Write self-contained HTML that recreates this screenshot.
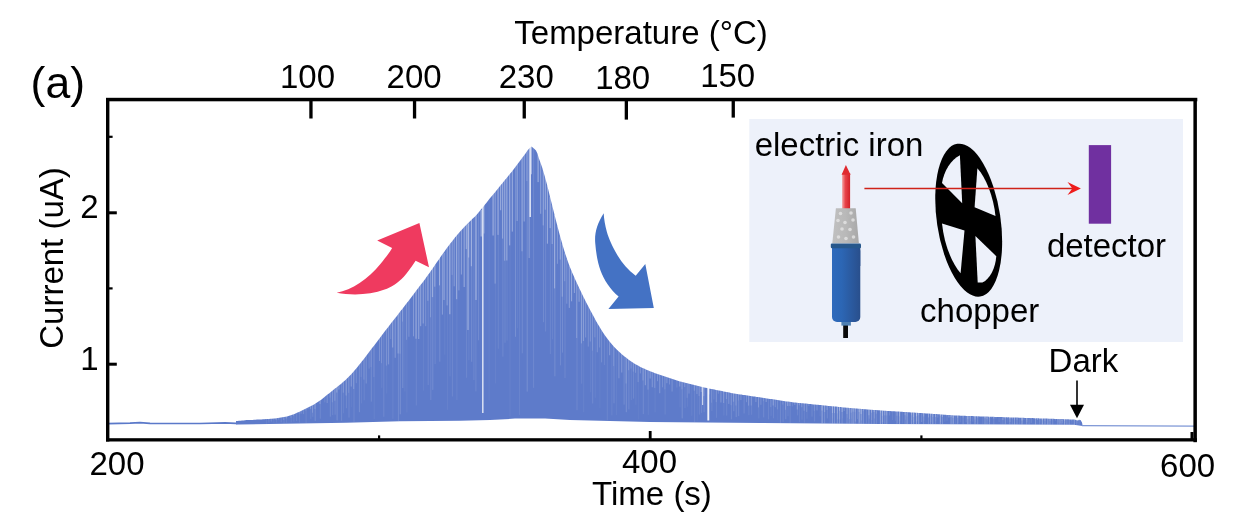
<!DOCTYPE html>
<html lang="en">
<head>
<meta charset="utf-8">
<title>Current vs Time</title>
<style>
html,body{margin:0;padding:0;background:#fff;}
body{width:1242px;height:516px;overflow:hidden;position:relative;}
svg{position:absolute;left:0;top:0;display:block;}
text{font-family:"Liberation Sans", Arial, sans-serif;fill:#000;}
</style>
</head>
<body>
<svg width="1242" height="516" viewBox="0 0 1242 516">
<defs>
<linearGradient id="gTip" x1="0" x2="1" y1="0" y2="0"><stop offset="0" stop-color="#f3a3a3"/><stop offset="0.4" stop-color="#e8434a"/><stop offset="1" stop-color="#d21f27"/></linearGradient>
<linearGradient id="gBody" x1="0" x2="1" y1="0" y2="0"><stop offset="0" stop-color="#2e6abc"/><stop offset="0.35" stop-color="#2c66b4"/><stop offset="1" stop-color="#294f8c"/></linearGradient>
<linearGradient id="gCone" x1="0" x2="1" y1="0" y2="0"><stop offset="0" stop-color="#c0c0c0"/><stop offset="0.5" stop-color="#b9b9b9"/><stop offset="1" stop-color="#a8a8a8"/></linearGradient>
</defs>
<rect width="1242" height="516" fill="#fff"/>

<!-- inset background -->
<rect x="749.3" y="119" width="433.7" height="223" fill="#edf1fa"/>

<!-- data band -->
<g id="data">
<polyline points="108,423.6 130,423.2 140,422.6 150,423.4 200,423.5 225,422.8 236,423.4 240,423" fill="none" stroke="#5b79c9" stroke-width="1.7"/>
<polygon points="236.0,421.0 237.5,420.9 239.0,420.8 240.5,420.7 242.0,420.6 243.5,420.4 245.0,420.2 246.5,420.1 248.0,420.1 249.5,420.0 251.0,419.9 252.5,419.9 254.0,419.8 255.5,419.7 257.0,419.6 258.5,419.6 260.0,419.5 261.5,419.4 263.0,419.3 264.5,419.2 266.0,419.1 267.5,419.0 269.0,418.9 270.5,418.8 272.0,418.7 273.5,418.5 275.0,418.4 276.5,418.2 278.0,418.0 279.5,417.8 281.0,417.6 282.5,417.3 284.0,417.0 285.5,416.7 287.0,416.4 288.5,415.9 290.0,415.5 291.5,415.0 293.0,414.5 294.5,413.9 296.0,413.2 297.5,412.6 299.0,411.9 300.5,411.2 302.0,410.5 303.5,409.7 305.0,409.0 306.5,408.2 308.0,407.5 309.5,406.8 311.0,406.0 312.5,405.2 314.0,404.4 315.5,403.5 317.0,402.5 318.5,401.5 320.0,400.5 321.5,399.4 323.0,398.2 324.5,397.0 326.0,395.8 327.5,394.6 329.0,393.4 330.5,392.2 332.0,391.0 333.5,389.8 335.0,388.6 336.5,387.4 338.0,386.2 339.5,385.1 341.0,383.9 342.5,382.6 344.0,381.3 345.5,379.9 347.0,378.5 348.5,377.0 350.0,375.5 351.5,373.9 353.0,372.2 354.5,370.5 356.0,368.7 357.5,366.9 359.0,365.0 360.5,363.2 362.0,361.3 363.5,359.4 365.0,357.4 366.5,355.5 368.0,353.5 369.5,351.6 371.0,349.6 372.5,347.6 374.0,345.7 375.5,343.7 377.0,341.7 378.5,339.7 380.0,337.7 381.5,335.7 383.0,333.7 384.5,331.8 386.0,329.8 387.5,327.9 389.0,326.0 390.5,324.0 392.0,322.1 393.5,320.2 395.0,318.3 396.5,316.4 398.0,314.5 399.5,312.6 401.0,310.6 402.5,308.7 404.0,306.7 405.5,304.8 407.0,302.8 408.5,300.9 410.0,298.9 411.5,296.9 413.0,295.0 414.5,293.0 416.0,291.0 417.5,289.1 419.0,287.1 420.5,285.1 422.0,283.2 423.5,281.2 425.0,279.2 426.5,277.1 428.0,275.1 429.5,273.0 431.0,270.8 432.5,268.7 434.0,266.5 435.5,264.3 437.0,262.1 438.5,259.9 440.0,257.7 441.5,255.6 443.0,253.5 444.5,251.4 446.0,249.3 447.5,247.3 449.0,245.3 450.5,243.3 452.0,241.4 453.5,239.5 455.0,237.6 456.5,235.8 458.0,234.0 459.5,232.3 461.0,230.6 462.5,229.0 464.0,227.3 465.5,225.7 467.0,224.2 468.5,222.7 470.0,221.2 471.5,219.7 473.0,218.3 474.5,217.0 476.0,215.4 477.5,213.7 479.0,211.9 480.5,210.1 482.0,208.3 483.5,206.5 485.0,204.6 486.5,202.7 488.0,200.7 489.5,198.8 491.0,197.1 492.5,195.3 494.0,193.5 495.5,191.7 497.0,189.8 498.5,188.0 500.0,186.1 501.5,184.3 503.0,182.4 504.5,180.6 506.0,178.8 507.5,177.0 509.0,175.1 510.5,173.3 512.0,171.4 513.5,169.5 515.0,167.5 516.5,165.6 518.0,163.6 519.5,161.6 521.0,159.5 522.5,157.5 524.0,155.5 525.5,153.4 527.0,151.3 528.5,149.2 530.0,147.8 531.5,146.6 533.0,147.7 534.5,149.1 536.0,150.4 537.5,153.8 539.0,158.8 540.5,162.7 542.0,167.1 543.5,172.0 545.0,177.3 546.5,182.8 548.0,188.6 549.5,194.7 551.0,200.7 552.5,206.8 554.0,212.7 555.5,218.7 557.0,224.5 558.5,230.3 560.0,235.9 561.5,241.3 563.0,246.5 564.5,251.4 566.0,256.1 567.5,260.5 569.0,264.7 570.5,268.5 572.0,272.2 573.5,275.6 575.0,279.0 576.5,282.3 578.0,285.5 579.5,288.7 581.0,291.8 582.5,294.9 584.0,297.9 585.5,300.9 587.0,303.9 588.5,306.8 590.0,309.7 591.5,312.5 593.0,315.3 594.5,318.1 596.0,320.9 597.5,323.6 599.0,326.1 600.5,328.6 602.0,331.0 603.5,333.3 605.0,335.5 606.5,337.5 608.0,339.5 609.5,341.4 611.0,343.2 612.5,345.0 614.0,346.7 615.5,348.3 617.0,349.8 618.5,351.2 620.0,352.6 621.5,353.9 623.0,355.2 624.5,356.4 626.0,357.6 627.5,358.8 629.0,359.9 630.5,361.0 632.0,362.0 633.5,363.0 635.0,363.9 636.5,364.8 638.0,365.6 639.5,366.4 641.0,367.2 642.5,367.9 644.0,368.6 645.5,369.3 647.0,370.0 648.5,370.6 650.0,371.2 651.5,371.8 653.0,372.3 654.5,372.9 656.0,373.4 657.5,373.9 659.0,374.4 660.5,375.0 662.0,375.5 663.5,376.0 665.0,376.5 666.5,377.1 668.0,377.6 669.5,378.1 671.0,378.6 672.5,379.1 674.0,379.6 675.5,380.1 677.0,380.5 678.5,381.0 680.0,381.4 681.5,381.8 683.0,382.2 684.5,382.6 686.0,382.9 687.5,383.3 689.0,383.7 690.5,384.1 692.0,384.4 693.5,384.8 695.0,385.2 696.5,385.6 698.0,385.9 699.5,386.3 701.0,386.7 702.5,387.0 704.0,387.4 705.5,387.7 707.0,388.1 708.5,388.4 710.0,388.7 711.5,389.0 713.0,389.3 714.5,389.6 716.0,389.9 717.5,390.2 719.0,390.5 720.5,390.8 722.0,391.1 723.5,391.4 725.0,391.7 726.5,392.0 728.0,392.3 729.5,392.6 731.0,392.9 732.5,393.2 734.0,393.4 735.5,393.7 737.0,393.9 738.5,394.2 740.0,394.4 741.5,394.6 743.0,394.9 744.5,395.1 746.0,395.3 747.5,395.5 749.0,395.8 750.5,396.0 752.0,396.2 753.5,396.4 755.0,396.6 756.5,396.9 758.0,397.1 759.5,397.3 761.0,397.5 762.5,397.8 764.0,398.0 765.5,398.2 767.0,398.4 768.5,398.7 770.0,398.9 771.5,399.1 773.0,399.3 774.5,399.6 776.0,399.8 777.5,400.0 779.0,400.2 780.5,400.5 782.0,400.7 783.5,400.9 785.0,401.2 786.5,401.4 788.0,401.6 789.5,401.8 791.0,402.0 792.5,402.2 794.0,402.4 795.5,402.6 797.0,402.7 798.5,402.9 800.0,403.0 801.5,403.2 803.0,403.3 804.5,403.5 806.0,403.6 807.5,403.8 809.0,403.9 810.5,404.1 812.0,404.2 813.5,404.4 815.0,404.5 816.5,404.7 818.0,404.8 819.5,405.0 821.0,405.1 822.5,405.3 824.0,405.4 825.5,405.6 827.0,405.7 828.5,405.9 830.0,406.0 831.5,406.2 833.0,406.3 834.5,406.5 836.0,406.6 837.5,406.8 839.0,406.9 840.5,407.1 842.0,407.2 843.5,407.4 845.0,407.5 846.5,407.7 848.0,407.8 849.5,407.9 851.0,408.1 852.5,408.2 854.0,408.3 855.5,408.5 857.0,408.6 858.5,408.7 860.0,408.8 861.5,408.9 863.0,409.1 864.5,409.2 866.0,409.3 867.5,409.4 869.0,409.5 870.5,409.7 872.0,409.8 873.5,409.9 875.0,410.0 876.5,410.1 878.0,410.2 879.5,410.3 881.0,410.5 882.5,410.6 884.0,410.7 885.5,410.8 887.0,410.9 888.5,411.0 890.0,411.1 891.5,411.2 893.0,411.2 894.5,411.3 896.0,411.4 897.5,411.5 899.0,411.6 900.5,411.7 902.0,411.8 903.5,411.9 905.0,412.0 906.5,412.1 908.0,412.2 909.5,412.3 911.0,412.4 912.5,412.5 914.0,412.6 915.5,412.7 917.0,412.8 918.5,412.9 920.0,413.0 921.5,413.1 923.0,413.2 924.5,413.3 926.0,413.4 927.5,413.5 929.0,413.6 930.5,413.7 932.0,413.8 933.5,413.9 935.0,414.0 936.5,414.1 938.0,414.2 939.5,414.3 941.0,414.5 942.5,414.6 944.0,414.7 945.5,414.8 947.0,414.9 948.5,415.0 950.0,415.1 951.5,415.2 953.0,415.3 954.5,415.4 956.0,415.5 957.5,415.5 959.0,415.6 960.5,415.7 962.0,415.7 963.5,415.8 965.0,415.8 966.5,415.9 968.0,415.9 969.5,416.0 971.0,416.1 972.5,416.1 974.0,416.2 975.5,416.2 977.0,416.3 978.5,416.3 980.0,416.4 981.5,416.4 983.0,416.5 984.5,416.5 986.0,416.6 987.5,416.6 989.0,416.7 990.5,416.7 992.0,416.8 993.5,416.8 995.0,416.9 996.5,416.9 998.0,417.0 999.5,417.0 1001.0,417.1 1002.5,417.1 1004.0,417.2 1005.5,417.2 1007.0,417.3 1008.5,417.3 1010.0,417.4 1011.5,417.4 1013.0,417.5 1014.5,417.5 1016.0,417.6 1017.5,417.6 1019.0,417.7 1020.5,417.7 1022.0,417.8 1023.5,417.8 1025.0,417.9 1026.5,417.9 1028.0,418.0 1029.5,418.0 1031.0,418.1 1032.5,418.1 1034.0,418.2 1035.5,418.2 1037.0,418.3 1038.5,418.3 1040.0,418.4 1041.5,418.4 1043.0,418.5 1044.5,418.5 1046.0,418.6 1047.5,418.6 1049.0,418.7 1050.5,418.7 1052.0,418.8 1053.5,418.8 1055.0,418.9 1056.5,418.9 1058.0,419.0 1059.5,419.0 1061.0,419.1 1062.5,419.1 1064.0,419.2 1065.5,419.2 1067.0,419.3 1068.5,419.3 1070.0,419.4 1071.5,419.4 1073.0,419.5 1074.5,419.6 1076.0,419.9 1077.5,420.6 1079.0,419.8 1080.5,419.9 1082.0,422.5 1082.5,425.0 1082.5,426.0 1074.0,424.8 880.0,424.0 760.0,422.9 650.0,422.0 570.0,420.0 545.0,418.6 515.0,418.6 490.0,420.0 460.0,420.7 400.0,421.2 346.0,422.7 239.0,424.6 236.0,424.6" fill="#5e7bca"/>
<line x1="266.3" y1="418.5" x2="266.3" y2="419.7" stroke="#fff" stroke-opacity="0.18" stroke-width="1.0"/><line x1="266.6" y1="418.5" x2="266.6" y2="423.9" stroke="#fff" stroke-opacity="0.08" stroke-width="0.8"/><line x1="268.6" y1="418.3" x2="268.6" y2="419.6" stroke="#fff" stroke-opacity="0.17" stroke-width="1.2"/><line x1="268.9" y1="418.3" x2="268.9" y2="422.5" stroke="#fff" stroke-opacity="0.13" stroke-width="0.8"/><line x1="271.1" y1="418.2" x2="271.1" y2="420.9" stroke="#fff" stroke-opacity="0.13" stroke-width="0.9"/><line x1="271.4" y1="418.2" x2="271.4" y2="422.2" stroke="#fff" stroke-opacity="0.07" stroke-width="1.0"/><line x1="273.5" y1="418.0" x2="273.5" y2="419.3" stroke="#fff" stroke-opacity="0.18" stroke-width="0.9"/><line x1="273.8" y1="418.0" x2="273.8" y2="423.0" stroke="#fff" stroke-opacity="0.07" stroke-width="0.8"/><line x1="276.1" y1="417.7" x2="276.1" y2="419.9" stroke="#fff" stroke-opacity="0.21" stroke-width="1.0"/><line x1="276.4" y1="417.7" x2="276.4" y2="422.7" stroke="#fff" stroke-opacity="0.09" stroke-width="0.8"/><line x1="278.7" y1="417.3" x2="278.7" y2="419.6" stroke="#fff" stroke-opacity="0.18" stroke-width="1.0"/><line x1="281.2" y1="417.0" x2="281.2" y2="422.4" stroke="#fff" stroke-opacity="0.14" stroke-width="0.8"/><line x1="283.7" y1="416.6" x2="283.7" y2="419.9" stroke="#fff" stroke-opacity="0.13" stroke-width="1.2"/><line x1="284.0" y1="416.6" x2="284.0" y2="423.5" stroke="#fff" stroke-opacity="0.09" stroke-width="1.0"/><line x1="286.2" y1="416.2" x2="286.2" y2="418.5" stroke="#fff" stroke-opacity="0.21" stroke-width="1.0"/><line x1="286.5" y1="416.2" x2="286.5" y2="422.8" stroke="#fff" stroke-opacity="0.07" stroke-width="1.0"/><line x1="290.9" y1="414.7" x2="290.9" y2="418.0" stroke="#fff" stroke-opacity="0.12" stroke-width="1.0"/><line x1="291.2" y1="414.7" x2="291.2" y2="422.4" stroke="#fff" stroke-opacity="0.11" stroke-width="0.8"/><line x1="293.6" y1="413.7" x2="293.6" y2="415.9" stroke="#fff" stroke-opacity="0.16" stroke-width="1.0"/><line x1="293.9" y1="413.7" x2="293.9" y2="421.6" stroke="#fff" stroke-opacity="0.12" stroke-width="0.8"/><line x1="296.6" y1="412.6" x2="296.6" y2="421.1" stroke="#fff" stroke-opacity="0.10" stroke-width="1.0"/><line x1="299.2" y1="411.3" x2="299.2" y2="413.7" stroke="#fff" stroke-opacity="0.15" stroke-width="0.9"/><line x1="299.5" y1="411.3" x2="299.5" y2="422.7" stroke="#fff" stroke-opacity="0.08" stroke-width="1.0"/><line x1="301.1" y1="410.4" x2="301.1" y2="413.7" stroke="#fff" stroke-opacity="0.18" stroke-width="0.9"/><line x1="303.5" y1="409.2" x2="303.5" y2="414.1" stroke="#fff" stroke-opacity="0.13" stroke-width="1.2"/><line x1="305.8" y1="408.0" x2="305.8" y2="410.6" stroke="#fff" stroke-opacity="0.19" stroke-width="0.9"/><line x1="306.1" y1="408.0" x2="306.1" y2="423.3" stroke="#fff" stroke-opacity="0.11" stroke-width="0.8"/><line x1="308.0" y1="406.9" x2="308.0" y2="409.1" stroke="#fff" stroke-opacity="0.14" stroke-width="0.9"/><line x1="310.5" y1="405.6" x2="310.5" y2="409.1" stroke="#fff" stroke-opacity="0.16" stroke-width="1.2"/><line x1="310.8" y1="405.6" x2="310.8" y2="418.9" stroke="#fff" stroke-opacity="0.10" stroke-width="0.8"/><line x1="312.5" y1="404.6" x2="312.5" y2="412.7" stroke="#fff" stroke-opacity="0.17" stroke-width="1.0"/><line x1="312.8" y1="404.6" x2="312.8" y2="416.8" stroke="#fff" stroke-opacity="0.10" stroke-width="1.0"/><line x1="314.9" y1="403.4" x2="314.9" y2="409.1" stroke="#fff" stroke-opacity="0.14" stroke-width="1.2"/><line x1="315.2" y1="403.4" x2="315.2" y2="420.9" stroke="#fff" stroke-opacity="0.16" stroke-width="1.0"/><line x1="320.0" y1="400.0" x2="320.0" y2="404.1" stroke="#fff" stroke-opacity="0.20" stroke-width="1.2"/><line x1="320.3" y1="400.0" x2="320.3" y2="418.7" stroke="#fff" stroke-opacity="0.13" stroke-width="0.8"/><line x1="324.8" y1="396.2" x2="324.8" y2="402.4" stroke="#fff" stroke-opacity="0.12" stroke-width="0.9"/><line x1="327.2" y1="394.3" x2="327.2" y2="403.1" stroke="#fff" stroke-opacity="0.16" stroke-width="1.2"/><line x1="330.0" y1="392.0" x2="330.0" y2="397.8" stroke="#fff" stroke-opacity="0.14" stroke-width="0.9"/><line x1="330.3" y1="392.0" x2="330.3" y2="416.7" stroke="#fff" stroke-opacity="0.17" stroke-width="0.8"/><line x1="332.4" y1="390.1" x2="332.4" y2="402.2" stroke="#fff" stroke-opacity="0.13" stroke-width="1.2"/><line x1="332.7" y1="390.1" x2="332.7" y2="415.1" stroke="#fff" stroke-opacity="0.14" stroke-width="0.8"/><line x1="334.8" y1="388.2" x2="334.8" y2="400.8" stroke="#fff" stroke-opacity="0.16" stroke-width="1.2"/><line x1="335.1" y1="388.2" x2="335.1" y2="414.7" stroke="#fff" stroke-opacity="0.16" stroke-width="0.8"/><line x1="336.8" y1="386.5" x2="336.8" y2="392.4" stroke="#fff" stroke-opacity="0.22" stroke-width="1.2"/><line x1="337.1" y1="386.5" x2="337.1" y2="420.4" stroke="#fff" stroke-opacity="0.17" stroke-width="1.0"/><line x1="338.9" y1="384.9" x2="338.9" y2="389.5" stroke="#fff" stroke-opacity="0.21" stroke-width="1.2"/><line x1="341.6" y1="383.0" x2="341.6" y2="420.8" stroke="#fff" stroke-opacity="0.15" stroke-width="0.8"/><line x1="343.3" y1="381.5" x2="343.3" y2="392.7" stroke="#fff" stroke-opacity="0.20" stroke-width="1.0"/><line x1="343.6" y1="381.5" x2="343.6" y2="413.3" stroke="#fff" stroke-opacity="0.07" stroke-width="1.0"/><line x1="346.1" y1="379.3" x2="346.1" y2="395.4" stroke="#fff" stroke-opacity="0.18" stroke-width="1.2"/><line x1="346.4" y1="379.3" x2="346.4" y2="408.2" stroke="#fff" stroke-opacity="0.12" stroke-width="1.0"/><line x1="348.7" y1="376.4" x2="348.7" y2="392.9" stroke="#fff" stroke-opacity="0.14" stroke-width="0.9"/><line x1="349.0" y1="376.4" x2="349.0" y2="417.6" stroke="#fff" stroke-opacity="0.12" stroke-width="1.0"/><line x1="351.3" y1="373.6" x2="351.3" y2="386.5" stroke="#fff" stroke-opacity="0.21" stroke-width="1.2"/><line x1="351.6" y1="373.6" x2="351.6" y2="406.9" stroke="#fff" stroke-opacity="0.06" stroke-width="0.8"/><line x1="353.7" y1="370.9" x2="353.7" y2="389.0" stroke="#fff" stroke-opacity="0.22" stroke-width="1.0"/><line x1="354.0" y1="370.9" x2="354.0" y2="421.9" stroke="#fff" stroke-opacity="0.13" stroke-width="0.8"/><line x1="356.3" y1="368.0" x2="356.3" y2="383.2" stroke="#fff" stroke-opacity="0.17" stroke-width="0.9"/><line x1="359.4" y1="364.4" x2="359.4" y2="412.2" stroke="#fff" stroke-opacity="0.16" stroke-width="1.0"/><line x1="361.1" y1="361.8" x2="361.1" y2="376.9" stroke="#fff" stroke-opacity="0.13" stroke-width="0.9"/><line x1="361.4" y1="361.8" x2="361.4" y2="403.4" stroke="#fff" stroke-opacity="0.09" stroke-width="0.8"/><line x1="363.9" y1="358.2" x2="363.9" y2="379.7" stroke="#fff" stroke-opacity="0.19" stroke-width="0.9"/><line x1="364.2" y1="358.2" x2="364.2" y2="400.3" stroke="#fff" stroke-opacity="0.11" stroke-width="0.8"/><line x1="366.2" y1="355.3" x2="366.2" y2="383.5" stroke="#fff" stroke-opacity="0.21" stroke-width="0.9"/><line x1="369.1" y1="351.5" x2="369.1" y2="368.6" stroke="#fff" stroke-opacity="0.16" stroke-width="0.9"/><line x1="371.0" y1="349.0" x2="371.0" y2="367.1" stroke="#fff" stroke-opacity="0.12" stroke-width="1.0"/><line x1="371.3" y1="349.0" x2="371.3" y2="401.6" stroke="#fff" stroke-opacity="0.17" stroke-width="0.8"/><line x1="373.9" y1="345.2" x2="373.9" y2="377.1" stroke="#fff" stroke-opacity="0.13" stroke-width="1.0"/><line x1="374.2" y1="345.2" x2="374.2" y2="419.1" stroke="#fff" stroke-opacity="0.08" stroke-width="0.8"/><line x1="379.5" y1="337.8" x2="379.5" y2="361.0" stroke="#fff" stroke-opacity="0.18" stroke-width="1.0"/><line x1="381.5" y1="335.1" x2="381.5" y2="363.2" stroke="#fff" stroke-opacity="0.17" stroke-width="0.9"/><line x1="381.8" y1="335.1" x2="381.8" y2="387.9" stroke="#fff" stroke-opacity="0.07" stroke-width="1.0"/><line x1="383.8" y1="332.5" x2="383.8" y2="416.8" stroke="#fff" stroke-opacity="0.11" stroke-width="1.0"/><line x1="386.4" y1="328.7" x2="386.4" y2="365.6" stroke="#fff" stroke-opacity="0.19" stroke-width="0.9"/><line x1="386.7" y1="328.7" x2="386.7" y2="393.5" stroke="#fff" stroke-opacity="0.07" stroke-width="0.8"/><line x1="388.5" y1="325.9" x2="388.5" y2="364.4" stroke="#fff" stroke-opacity="0.20" stroke-width="1.2"/><line x1="390.7" y1="323.2" x2="390.7" y2="339.1" stroke="#fff" stroke-opacity="0.17" stroke-width="0.9"/><line x1="392.6" y1="320.7" x2="392.6" y2="347.5" stroke="#fff" stroke-opacity="0.25" stroke-width="1.2"/><line x1="392.9" y1="320.7" x2="392.9" y2="418.8" stroke="#fff" stroke-opacity="0.07" stroke-width="1.0"/><line x1="395.2" y1="317.5" x2="395.2" y2="357.8" stroke="#fff" stroke-opacity="0.25" stroke-width="1.0"/><line x1="398.1" y1="313.8" x2="398.1" y2="353.6" stroke="#fff" stroke-opacity="0.23" stroke-width="1.2"/><line x1="398.4" y1="313.8" x2="398.4" y2="420.8" stroke="#fff" stroke-opacity="0.17" stroke-width="0.8"/><line x1="400.0" y1="311.4" x2="400.0" y2="353.7" stroke="#fff" stroke-opacity="0.20" stroke-width="0.9"/><line x1="400.3" y1="311.4" x2="400.3" y2="414.3" stroke="#fff" stroke-opacity="0.16" stroke-width="1.0"/><line x1="402.5" y1="308.1" x2="402.5" y2="321.6" stroke="#fff" stroke-opacity="0.17" stroke-width="1.0"/><line x1="402.8" y1="308.1" x2="402.8" y2="388.0" stroke="#fff" stroke-opacity="0.17" stroke-width="1.0"/><line x1="404.9" y1="305.3" x2="404.9" y2="391.5" stroke="#fff" stroke-opacity="0.06" stroke-width="1.0"/><line x1="406.6" y1="302.7" x2="406.6" y2="339.8" stroke="#fff" stroke-opacity="0.19" stroke-width="0.9"/><line x1="406.9" y1="302.7" x2="406.9" y2="412.5" stroke="#fff" stroke-opacity="0.08" stroke-width="0.8"/><line x1="408.9" y1="299.7" x2="408.9" y2="336.7" stroke="#fff" stroke-opacity="0.17" stroke-width="1.2"/><line x1="413.5" y1="293.8" x2="413.5" y2="336.3" stroke="#fff" stroke-opacity="0.24" stroke-width="1.0"/><line x1="416.0" y1="290.4" x2="416.0" y2="338.8" stroke="#fff" stroke-opacity="0.30" stroke-width="1.2"/><line x1="416.3" y1="290.4" x2="416.3" y2="405.5" stroke="#fff" stroke-opacity="0.12" stroke-width="0.8"/><line x1="418.7" y1="286.8" x2="418.7" y2="339.0" stroke="#fff" stroke-opacity="0.28" stroke-width="1.2"/><line x1="420.7" y1="284.2" x2="420.7" y2="326.2" stroke="#fff" stroke-opacity="0.33" stroke-width="1.0"/><line x1="423.2" y1="281.0" x2="423.2" y2="323.5" stroke="#fff" stroke-opacity="0.29" stroke-width="1.0"/><line x1="423.5" y1="281.0" x2="423.5" y2="390.7" stroke="#fff" stroke-opacity="0.07" stroke-width="0.8"/><line x1="425.7" y1="277.7" x2="425.7" y2="326.2" stroke="#fff" stroke-opacity="0.22" stroke-width="0.9"/><line x1="427.9" y1="274.9" x2="427.9" y2="300.8" stroke="#fff" stroke-opacity="0.30" stroke-width="1.0"/><line x1="428.2" y1="274.9" x2="428.2" y2="385.0" stroke="#fff" stroke-opacity="0.11" stroke-width="1.0"/><line x1="430.5" y1="271.1" x2="430.5" y2="317.3" stroke="#fff" stroke-opacity="0.20" stroke-width="0.9"/><line x1="430.8" y1="271.1" x2="430.8" y2="400.1" stroke="#fff" stroke-opacity="0.14" stroke-width="0.8"/><line x1="432.5" y1="268.2" x2="432.5" y2="297.1" stroke="#fff" stroke-opacity="0.31" stroke-width="1.2"/><line x1="432.8" y1="268.2" x2="432.8" y2="389.9" stroke="#fff" stroke-opacity="0.14" stroke-width="1.0"/><line x1="434.8" y1="264.7" x2="434.8" y2="286.7" stroke="#fff" stroke-opacity="0.36" stroke-width="0.9"/><line x1="435.1" y1="264.7" x2="435.1" y2="364.0" stroke="#fff" stroke-opacity="0.11" stroke-width="1.0"/><line x1="439.5" y1="257.6" x2="439.5" y2="285.4" stroke="#fff" stroke-opacity="0.38" stroke-width="0.9"/><line x1="439.8" y1="257.6" x2="439.8" y2="361.7" stroke="#fff" stroke-opacity="0.14" stroke-width="1.0"/><line x1="442.4" y1="253.7" x2="442.4" y2="314.6" stroke="#fff" stroke-opacity="0.31" stroke-width="0.9"/><line x1="444.8" y1="250.8" x2="444.8" y2="354.7" stroke="#fff" stroke-opacity="0.06" stroke-width="1.0"/><line x1="447.1" y1="247.3" x2="447.1" y2="305.4" stroke="#fff" stroke-opacity="0.30" stroke-width="1.0"/><line x1="447.4" y1="247.3" x2="447.4" y2="409.8" stroke="#fff" stroke-opacity="0.06" stroke-width="1.0"/><line x1="449.8" y1="243.5" x2="449.8" y2="314.2" stroke="#fff" stroke-opacity="0.37" stroke-width="1.2"/><line x1="450.1" y1="243.5" x2="450.1" y2="376.4" stroke="#fff" stroke-opacity="0.10" stroke-width="0.8"/><line x1="452.1" y1="240.5" x2="452.1" y2="274.9" stroke="#fff" stroke-opacity="0.24" stroke-width="0.9"/><line x1="452.4" y1="240.5" x2="452.4" y2="396.5" stroke="#fff" stroke-opacity="0.13" stroke-width="0.8"/><line x1="454.2" y1="237.6" x2="454.2" y2="286.3" stroke="#fff" stroke-opacity="0.27" stroke-width="1.0"/><line x1="456.6" y1="234.9" x2="456.6" y2="299.2" stroke="#fff" stroke-opacity="0.32" stroke-width="1.2"/><line x1="456.9" y1="234.9" x2="456.9" y2="400.0" stroke="#fff" stroke-opacity="0.07" stroke-width="1.0"/><line x1="458.9" y1="232.3" x2="458.9" y2="290.4" stroke="#fff" stroke-opacity="0.30" stroke-width="0.9"/><line x1="461.4" y1="229.6" x2="461.4" y2="274.5" stroke="#fff" stroke-opacity="0.30" stroke-width="1.0"/><line x1="464.2" y1="226.4" x2="464.2" y2="287.0" stroke="#fff" stroke-opacity="0.31" stroke-width="1.2"/><line x1="466.3" y1="224.2" x2="466.3" y2="249.1" stroke="#fff" stroke-opacity="0.35" stroke-width="1.0"/><line x1="466.6" y1="224.2" x2="466.6" y2="377.7" stroke="#fff" stroke-opacity="0.10" stroke-width="1.0"/><line x1="468.6" y1="221.6" x2="468.6" y2="257.6" stroke="#fff" stroke-opacity="0.28" stroke-width="1.2"/><line x1="468.9" y1="221.6" x2="468.9" y2="360.2" stroke="#fff" stroke-opacity="0.09" stroke-width="0.8"/><line x1="471.4" y1="219.1" x2="471.4" y2="266.3" stroke="#fff" stroke-opacity="0.33" stroke-width="1.2"/><line x1="471.7" y1="219.1" x2="471.7" y2="361.8" stroke="#fff" stroke-opacity="0.14" stroke-width="1.0"/><line x1="473.9" y1="217.2" x2="473.9" y2="380.1" stroke="#fff" stroke-opacity="0.13" stroke-width="0.8"/><line x1="475.9" y1="215.4" x2="475.9" y2="391.4" stroke="#fff" stroke-opacity="0.11" stroke-width="1.0"/><line x1="478.6" y1="213.0" x2="478.6" y2="340.3" stroke="#fff" stroke-opacity="0.14" stroke-width="1.0"/><line x1="481.2" y1="209.9" x2="481.2" y2="236.4" stroke="#fff" stroke-opacity="0.44" stroke-width="1.2"/><line x1="484.0" y1="203.7" x2="484.0" y2="233.4" stroke="#fff" stroke-opacity="0.27" stroke-width="1.2"/><line x1="489.1" y1="199.4" x2="489.1" y2="400.4" stroke="#fff" stroke-opacity="0.06" stroke-width="0.8"/><line x1="493.1" y1="194.1" x2="493.1" y2="235.4" stroke="#fff" stroke-opacity="0.38" stroke-width="1.2"/><line x1="495.1" y1="191.5" x2="495.1" y2="283.6" stroke="#fff" stroke-opacity="0.28" stroke-width="1.0"/><line x1="495.4" y1="191.5" x2="495.4" y2="383.4" stroke="#fff" stroke-opacity="0.06" stroke-width="1.0"/><line x1="498.0" y1="187.8" x2="498.0" y2="234.9" stroke="#fff" stroke-opacity="0.42" stroke-width="0.9"/><line x1="498.3" y1="187.8" x2="498.3" y2="348.8" stroke="#fff" stroke-opacity="0.09" stroke-width="1.0"/><line x1="500.6" y1="184.7" x2="500.6" y2="210.3" stroke="#fff" stroke-opacity="0.35" stroke-width="1.2"/><line x1="502.6" y1="182.3" x2="502.6" y2="238.6" stroke="#fff" stroke-opacity="0.32" stroke-width="1.0"/><line x1="502.9" y1="182.3" x2="502.9" y2="356.7" stroke="#fff" stroke-opacity="0.11" stroke-width="1.0"/><line x1="504.7" y1="179.7" x2="504.7" y2="260.7" stroke="#fff" stroke-opacity="0.35" stroke-width="0.9"/><line x1="505.0" y1="179.7" x2="505.0" y2="342.8" stroke="#fff" stroke-opacity="0.14" stroke-width="0.8"/><line x1="506.8" y1="177.2" x2="506.8" y2="260.6" stroke="#fff" stroke-opacity="0.30" stroke-width="1.2"/><line x1="507.1" y1="177.2" x2="507.1" y2="340.6" stroke="#fff" stroke-opacity="0.08" stroke-width="1.0"/><line x1="509.7" y1="173.8" x2="509.7" y2="245.4" stroke="#fff" stroke-opacity="0.44" stroke-width="0.9"/><line x1="510.0" y1="173.8" x2="510.0" y2="416.4" stroke="#fff" stroke-opacity="0.08" stroke-width="0.8"/><line x1="512.3" y1="170.6" x2="512.3" y2="231.6" stroke="#fff" stroke-opacity="0.40" stroke-width="1.0"/><line x1="515.5" y1="166.8" x2="515.5" y2="336.8" stroke="#fff" stroke-opacity="0.16" stroke-width="1.0"/><line x1="517.1" y1="164.2" x2="517.1" y2="221.0" stroke="#fff" stroke-opacity="0.32" stroke-width="1.0"/><line x1="517.4" y1="164.2" x2="517.4" y2="328.2" stroke="#fff" stroke-opacity="0.07" stroke-width="0.8"/><line x1="519.6" y1="161.2" x2="519.6" y2="414.9" stroke="#fff" stroke-opacity="0.08" stroke-width="1.0"/><line x1="522.0" y1="157.6" x2="522.0" y2="251.3" stroke="#fff" stroke-opacity="0.26" stroke-width="1.2"/><line x1="522.3" y1="157.6" x2="522.3" y2="353.3" stroke="#fff" stroke-opacity="0.16" stroke-width="0.8"/><line x1="524.2" y1="154.5" x2="524.2" y2="221.5" stroke="#fff" stroke-opacity="0.38" stroke-width="0.9"/><line x1="526.9" y1="150.8" x2="526.9" y2="181.1" stroke="#fff" stroke-opacity="0.25" stroke-width="0.9"/><line x1="527.2" y1="150.8" x2="527.2" y2="391.6" stroke="#fff" stroke-opacity="0.16" stroke-width="1.0"/><line x1="529.2" y1="147.9" x2="529.2" y2="258.0" stroke="#fff" stroke-opacity="0.25" stroke-width="1.2"/><line x1="531.4" y1="146.1" x2="531.4" y2="174.2" stroke="#fff" stroke-opacity="0.41" stroke-width="1.2"/><line x1="533.6" y1="147.4" x2="533.6" y2="387.8" stroke="#fff" stroke-opacity="0.11" stroke-width="1.0"/><line x1="538.1" y1="154.4" x2="538.1" y2="182.1" stroke="#fff" stroke-opacity="0.44" stroke-width="1.0"/><line x1="540.7" y1="160.4" x2="540.7" y2="213.8" stroke="#fff" stroke-opacity="0.31" stroke-width="1.0"/><line x1="543.2" y1="168.7" x2="543.2" y2="225.4" stroke="#fff" stroke-opacity="0.28" stroke-width="1.0"/><line x1="543.5" y1="168.7" x2="543.5" y2="322.2" stroke="#fff" stroke-opacity="0.12" stroke-width="1.0"/><line x1="545.3" y1="177.0" x2="545.3" y2="209.8" stroke="#fff" stroke-opacity="0.26" stroke-width="1.2"/><line x1="545.6" y1="177.0" x2="545.6" y2="331.5" stroke="#fff" stroke-opacity="0.11" stroke-width="1.0"/><line x1="547.4" y1="185.5" x2="547.4" y2="243.7" stroke="#fff" stroke-opacity="0.44" stroke-width="0.9"/><line x1="550.1" y1="196.7" x2="550.1" y2="228.1" stroke="#fff" stroke-opacity="0.42" stroke-width="1.0"/><line x1="550.4" y1="196.7" x2="550.4" y2="354.0" stroke="#fff" stroke-opacity="0.09" stroke-width="1.0"/><line x1="552.2" y1="205.3" x2="552.2" y2="243.9" stroke="#fff" stroke-opacity="0.27" stroke-width="1.2"/><line x1="552.5" y1="205.3" x2="552.5" y2="339.3" stroke="#fff" stroke-opacity="0.09" stroke-width="0.8"/><line x1="554.6" y1="214.7" x2="554.6" y2="288.4" stroke="#fff" stroke-opacity="0.38" stroke-width="0.9"/><line x1="554.9" y1="214.7" x2="554.9" y2="376.3" stroke="#fff" stroke-opacity="0.15" stroke-width="1.0"/><line x1="557.4" y1="225.8" x2="557.4" y2="263.8" stroke="#fff" stroke-opacity="0.27" stroke-width="0.9"/><line x1="560.2" y1="236.3" x2="560.2" y2="259.6" stroke="#fff" stroke-opacity="0.34" stroke-width="0.9"/><line x1="560.5" y1="236.3" x2="560.5" y2="365.4" stroke="#fff" stroke-opacity="0.15" stroke-width="0.8"/><line x1="562.2" y1="243.8" x2="562.2" y2="296.7" stroke="#fff" stroke-opacity="0.27" stroke-width="1.0"/><line x1="562.5" y1="243.8" x2="562.5" y2="352.6" stroke="#fff" stroke-opacity="0.17" stroke-width="0.8"/><line x1="564.7" y1="253.2" x2="564.7" y2="281.2" stroke="#fff" stroke-opacity="0.21" stroke-width="1.0"/><line x1="565.0" y1="253.2" x2="565.0" y2="378.0" stroke="#fff" stroke-opacity="0.13" stroke-width="0.8"/><line x1="566.8" y1="259.0" x2="566.8" y2="303.7" stroke="#fff" stroke-opacity="0.22" stroke-width="0.9"/><line x1="569.3" y1="265.6" x2="569.3" y2="307.9" stroke="#fff" stroke-opacity="0.31" stroke-width="1.0"/><line x1="571.6" y1="271.4" x2="571.6" y2="301.3" stroke="#fff" stroke-opacity="0.36" stroke-width="1.0"/><line x1="574.4" y1="277.4" x2="574.4" y2="293.0" stroke="#fff" stroke-opacity="0.31" stroke-width="1.0"/><line x1="576.7" y1="282.3" x2="576.7" y2="338.0" stroke="#fff" stroke-opacity="0.25" stroke-width="0.9"/><line x1="577.0" y1="282.3" x2="577.0" y2="410.3" stroke="#fff" stroke-opacity="0.10" stroke-width="1.0"/><line x1="579.1" y1="287.4" x2="579.1" y2="301.8" stroke="#fff" stroke-opacity="0.26" stroke-width="1.2"/><line x1="581.4" y1="292.2" x2="581.4" y2="343.4" stroke="#fff" stroke-opacity="0.28" stroke-width="0.9"/><line x1="581.7" y1="292.2" x2="581.7" y2="383.7" stroke="#fff" stroke-opacity="0.12" stroke-width="0.8"/><line x1="583.4" y1="296.2" x2="583.4" y2="341.0" stroke="#fff" stroke-opacity="0.30" stroke-width="0.9"/><line x1="583.7" y1="296.2" x2="583.7" y2="412.3" stroke="#fff" stroke-opacity="0.06" stroke-width="1.0"/><line x1="585.6" y1="300.6" x2="585.6" y2="337.4" stroke="#fff" stroke-opacity="0.17" stroke-width="1.2"/><line x1="588.3" y1="305.9" x2="588.3" y2="346.6" stroke="#fff" stroke-opacity="0.18" stroke-width="1.0"/><line x1="590.4" y1="310.0" x2="590.4" y2="341.5" stroke="#fff" stroke-opacity="0.15" stroke-width="1.2"/><line x1="590.7" y1="310.0" x2="590.7" y2="392.3" stroke="#fff" stroke-opacity="0.08" stroke-width="0.8"/><line x1="592.4" y1="313.7" x2="592.4" y2="350.7" stroke="#fff" stroke-opacity="0.14" stroke-width="1.0"/><line x1="592.7" y1="313.7" x2="592.7" y2="403.5" stroke="#fff" stroke-opacity="0.12" stroke-width="1.0"/><line x1="594.9" y1="318.4" x2="594.9" y2="337.3" stroke="#fff" stroke-opacity="0.18" stroke-width="1.0"/><line x1="595.2" y1="318.4" x2="595.2" y2="397.8" stroke="#fff" stroke-opacity="0.06" stroke-width="1.0"/><line x1="597.3" y1="322.7" x2="597.3" y2="352.3" stroke="#fff" stroke-opacity="0.22" stroke-width="0.9"/><line x1="599.6" y1="326.9" x2="599.6" y2="347.5" stroke="#fff" stroke-opacity="0.16" stroke-width="1.0"/><line x1="599.9" y1="326.9" x2="599.9" y2="408.0" stroke="#fff" stroke-opacity="0.06" stroke-width="0.8"/><line x1="601.6" y1="330.5" x2="601.6" y2="362.4" stroke="#fff" stroke-opacity="0.18" stroke-width="0.9"/><line x1="604.4" y1="334.2" x2="604.4" y2="365.0" stroke="#fff" stroke-opacity="0.12" stroke-width="0.9"/><line x1="607.3" y1="337.7" x2="607.3" y2="420.3" stroke="#fff" stroke-opacity="0.11" stroke-width="0.8"/><line x1="609.6" y1="341.2" x2="609.6" y2="355.3" stroke="#fff" stroke-opacity="0.21" stroke-width="1.2"/><line x1="611.9" y1="343.6" x2="611.9" y2="415.4" stroke="#fff" stroke-opacity="0.08" stroke-width="1.0"/><line x1="613.7" y1="345.9" x2="613.7" y2="366.1" stroke="#fff" stroke-opacity="0.16" stroke-width="0.9"/><line x1="614.0" y1="345.9" x2="614.0" y2="403.3" stroke="#fff" stroke-opacity="0.13" stroke-width="1.0"/><line x1="616.6" y1="348.8" x2="616.6" y2="415.0" stroke="#fff" stroke-opacity="0.07" stroke-width="0.8"/><line x1="618.9" y1="351.3" x2="618.9" y2="378.2" stroke="#fff" stroke-opacity="0.18" stroke-width="1.2"/><line x1="621.7" y1="353.6" x2="621.7" y2="372.4" stroke="#fff" stroke-opacity="0.21" stroke-width="1.2"/><line x1="624.1" y1="355.3" x2="624.1" y2="404.6" stroke="#fff" stroke-opacity="0.14" stroke-width="1.0"/><line x1="626.0" y1="357.0" x2="626.0" y2="383.5" stroke="#fff" stroke-opacity="0.15" stroke-width="1.2"/><line x1="626.3" y1="357.0" x2="626.3" y2="412.2" stroke="#fff" stroke-opacity="0.17" stroke-width="1.0"/><line x1="628.6" y1="359.1" x2="628.6" y2="370.3" stroke="#fff" stroke-opacity="0.15" stroke-width="1.2"/><line x1="628.9" y1="359.1" x2="628.9" y2="409.4" stroke="#fff" stroke-opacity="0.16" stroke-width="0.8"/><line x1="631.0" y1="361.0" x2="631.0" y2="368.5" stroke="#fff" stroke-opacity="0.13" stroke-width="1.2"/><line x1="631.3" y1="361.0" x2="631.3" y2="400.1" stroke="#fff" stroke-opacity="0.10" stroke-width="0.8"/><line x1="633.3" y1="362.7" x2="633.3" y2="371.6" stroke="#fff" stroke-opacity="0.16" stroke-width="1.0"/><line x1="633.6" y1="362.7" x2="633.6" y2="398.6" stroke="#fff" stroke-opacity="0.15" stroke-width="0.8"/><line x1="635.6" y1="363.9" x2="635.6" y2="372.8" stroke="#fff" stroke-opacity="0.19" stroke-width="1.0"/><line x1="635.9" y1="363.9" x2="635.9" y2="404.8" stroke="#fff" stroke-opacity="0.06" stroke-width="1.0"/><line x1="638.1" y1="365.1" x2="638.1" y2="382.1" stroke="#fff" stroke-opacity="0.18" stroke-width="1.0"/><line x1="638.4" y1="365.1" x2="638.4" y2="419.5" stroke="#fff" stroke-opacity="0.06" stroke-width="0.8"/><line x1="640.4" y1="366.3" x2="640.4" y2="373.4" stroke="#fff" stroke-opacity="0.21" stroke-width="0.9"/><line x1="643.0" y1="367.6" x2="643.0" y2="380.6" stroke="#fff" stroke-opacity="0.18" stroke-width="1.2"/><line x1="643.3" y1="367.6" x2="643.3" y2="414.1" stroke="#fff" stroke-opacity="0.15" stroke-width="0.8"/><line x1="645.4" y1="368.8" x2="645.4" y2="385.2" stroke="#fff" stroke-opacity="0.23" stroke-width="1.2"/><line x1="648.0" y1="370.0" x2="648.0" y2="389.6" stroke="#fff" stroke-opacity="0.20" stroke-width="1.0"/><line x1="648.3" y1="370.0" x2="648.3" y2="414.9" stroke="#fff" stroke-opacity="0.08" stroke-width="0.8"/><line x1="650.2" y1="370.7" x2="650.2" y2="378.4" stroke="#fff" stroke-opacity="0.22" stroke-width="1.2"/><line x1="652.3" y1="371.5" x2="652.3" y2="387.3" stroke="#fff" stroke-opacity="0.19" stroke-width="1.2"/><line x1="654.8" y1="372.4" x2="654.8" y2="387.9" stroke="#fff" stroke-opacity="0.23" stroke-width="0.9"/><line x1="655.1" y1="372.4" x2="655.1" y2="412.4" stroke="#fff" stroke-opacity="0.08" stroke-width="0.8"/><line x1="657.5" y1="373.3" x2="657.5" y2="381.2" stroke="#fff" stroke-opacity="0.22" stroke-width="0.9"/><line x1="659.7" y1="374.1" x2="659.7" y2="393.2" stroke="#fff" stroke-opacity="0.19" stroke-width="1.2"/><line x1="662.5" y1="375.1" x2="662.5" y2="387.3" stroke="#fff" stroke-opacity="0.18" stroke-width="0.9"/><line x1="664.8" y1="375.9" x2="664.8" y2="389.4" stroke="#fff" stroke-opacity="0.15" stroke-width="0.9"/><line x1="665.1" y1="375.9" x2="665.1" y2="414.5" stroke="#fff" stroke-opacity="0.12" stroke-width="0.8"/><line x1="666.9" y1="376.6" x2="666.9" y2="383.2" stroke="#fff" stroke-opacity="0.22" stroke-width="1.0"/><line x1="669.5" y1="377.5" x2="669.5" y2="384.5" stroke="#fff" stroke-opacity="0.19" stroke-width="0.9"/><line x1="672.1" y1="378.4" x2="672.1" y2="391.5" stroke="#fff" stroke-opacity="0.16" stroke-width="1.2"/><line x1="676.9" y1="380.1" x2="676.9" y2="387.5" stroke="#fff" stroke-opacity="0.13" stroke-width="0.9"/><line x1="679.7" y1="380.8" x2="679.7" y2="386.6" stroke="#fff" stroke-opacity="0.20" stroke-width="1.2"/><line x1="680.0" y1="380.8" x2="680.0" y2="407.5" stroke="#fff" stroke-opacity="0.07" stroke-width="0.8"/><line x1="681.9" y1="381.3" x2="681.9" y2="389.3" stroke="#fff" stroke-opacity="0.16" stroke-width="1.0"/><line x1="682.2" y1="381.3" x2="682.2" y2="418.4" stroke="#fff" stroke-opacity="0.16" stroke-width="1.0"/><line x1="684.7" y1="382.0" x2="684.7" y2="387.0" stroke="#fff" stroke-opacity="0.17" stroke-width="1.0"/><line x1="685.0" y1="382.0" x2="685.0" y2="408.0" stroke="#fff" stroke-opacity="0.11" stroke-width="0.8"/><line x1="687.1" y1="382.6" x2="687.1" y2="397.9" stroke="#fff" stroke-opacity="0.13" stroke-width="1.0"/><line x1="687.4" y1="382.6" x2="687.4" y2="406.7" stroke="#fff" stroke-opacity="0.08" stroke-width="0.8"/><line x1="689.0" y1="383.1" x2="689.0" y2="393.6" stroke="#fff" stroke-opacity="0.21" stroke-width="0.9"/><line x1="691.8" y1="383.7" x2="691.8" y2="415.9" stroke="#fff" stroke-opacity="0.08" stroke-width="0.8"/><line x1="694.3" y1="384.4" x2="694.3" y2="390.7" stroke="#fff" stroke-opacity="0.22" stroke-width="0.9"/><line x1="694.6" y1="384.4" x2="694.6" y2="422.2" stroke="#fff" stroke-opacity="0.12" stroke-width="0.8"/><line x1="696.9" y1="385.1" x2="696.9" y2="394.0" stroke="#fff" stroke-opacity="0.16" stroke-width="1.2"/><line x1="697.2" y1="385.1" x2="697.2" y2="420.7" stroke="#fff" stroke-opacity="0.06" stroke-width="0.8"/><line x1="699.1" y1="385.6" x2="699.1" y2="396.1" stroke="#fff" stroke-opacity="0.14" stroke-width="1.2"/><line x1="699.4" y1="385.6" x2="699.4" y2="414.6" stroke="#fff" stroke-opacity="0.12" stroke-width="0.8"/><line x1="701.3" y1="386.2" x2="701.3" y2="392.1" stroke="#fff" stroke-opacity="0.21" stroke-width="1.2"/><line x1="701.6" y1="386.2" x2="701.6" y2="412.8" stroke="#fff" stroke-opacity="0.11" stroke-width="1.0"/><line x1="703.8" y1="386.8" x2="703.8" y2="396.1" stroke="#fff" stroke-opacity="0.22" stroke-width="0.9"/><line x1="704.1" y1="386.8" x2="704.1" y2="412.2" stroke="#fff" stroke-opacity="0.14" stroke-width="0.8"/><line x1="708.9" y1="387.9" x2="708.9" y2="394.5" stroke="#fff" stroke-opacity="0.23" stroke-width="1.0"/><line x1="711.6" y1="388.4" x2="711.6" y2="402.7" stroke="#fff" stroke-opacity="0.13" stroke-width="1.0"/><line x1="711.9" y1="388.4" x2="711.9" y2="411.1" stroke="#fff" stroke-opacity="0.09" stroke-width="1.0"/><line x1="713.9" y1="388.9" x2="713.9" y2="399.5" stroke="#fff" stroke-opacity="0.13" stroke-width="0.9"/><line x1="716.2" y1="389.4" x2="716.2" y2="402.1" stroke="#fff" stroke-opacity="0.17" stroke-width="0.9"/><line x1="716.5" y1="389.4" x2="716.5" y2="417.8" stroke="#fff" stroke-opacity="0.11" stroke-width="0.8"/><line x1="718.4" y1="389.8" x2="718.4" y2="393.7" stroke="#fff" stroke-opacity="0.15" stroke-width="1.0"/><line x1="720.9" y1="390.3" x2="720.9" y2="402.6" stroke="#fff" stroke-opacity="0.19" stroke-width="1.2"/><line x1="723.6" y1="390.8" x2="723.6" y2="403.0" stroke="#fff" stroke-opacity="0.19" stroke-width="1.2"/><line x1="723.9" y1="390.8" x2="723.9" y2="415.5" stroke="#fff" stroke-opacity="0.09" stroke-width="0.8"/><line x1="726.4" y1="391.4" x2="726.4" y2="399.0" stroke="#fff" stroke-opacity="0.20" stroke-width="0.9"/><line x1="726.7" y1="391.4" x2="726.7" y2="415.6" stroke="#fff" stroke-opacity="0.11" stroke-width="1.0"/><line x1="728.8" y1="391.9" x2="728.8" y2="403.9" stroke="#fff" stroke-opacity="0.22" stroke-width="1.0"/><line x1="731.1" y1="392.3" x2="731.1" y2="405.2" stroke="#fff" stroke-opacity="0.12" stroke-width="1.2"/><line x1="731.4" y1="392.3" x2="731.4" y2="419.3" stroke="#fff" stroke-opacity="0.16" stroke-width="0.8"/><line x1="733.5" y1="392.8" x2="733.5" y2="401.7" stroke="#fff" stroke-opacity="0.18" stroke-width="1.2"/><line x1="733.8" y1="392.8" x2="733.8" y2="411.2" stroke="#fff" stroke-opacity="0.15" stroke-width="1.0"/><line x1="735.9" y1="393.2" x2="735.9" y2="405.5" stroke="#fff" stroke-opacity="0.14" stroke-width="1.2"/><line x1="736.2" y1="393.2" x2="736.2" y2="417.1" stroke="#fff" stroke-opacity="0.16" stroke-width="1.0"/><line x1="738.4" y1="393.6" x2="738.4" y2="400.5" stroke="#fff" stroke-opacity="0.13" stroke-width="0.9"/><line x1="738.7" y1="393.6" x2="738.7" y2="416.1" stroke="#fff" stroke-opacity="0.14" stroke-width="1.0"/><line x1="740.9" y1="394.0" x2="740.9" y2="400.1" stroke="#fff" stroke-opacity="0.16" stroke-width="1.2"/><line x1="744.1" y1="394.4" x2="744.1" y2="413.5" stroke="#fff" stroke-opacity="0.16" stroke-width="0.8"/><line x1="746.5" y1="394.8" x2="746.5" y2="402.2" stroke="#fff" stroke-opacity="0.18" stroke-width="0.9"/><line x1="748.6" y1="395.1" x2="748.6" y2="405.6" stroke="#fff" stroke-opacity="0.21" stroke-width="1.0"/><line x1="748.9" y1="395.1" x2="748.9" y2="415.2" stroke="#fff" stroke-opacity="0.12" stroke-width="0.8"/><line x1="751.3" y1="395.5" x2="751.3" y2="405.5" stroke="#fff" stroke-opacity="0.15" stroke-width="1.2"/><line x1="751.6" y1="395.5" x2="751.6" y2="414.8" stroke="#fff" stroke-opacity="0.11" stroke-width="0.8"/><line x1="755.9" y1="396.2" x2="755.9" y2="402.1" stroke="#fff" stroke-opacity="0.17" stroke-width="1.2"/><line x1="758.5" y1="396.6" x2="758.5" y2="407.4" stroke="#fff" stroke-opacity="0.21" stroke-width="0.9"/><line x1="758.8" y1="396.6" x2="758.8" y2="418.4" stroke="#fff" stroke-opacity="0.10" stroke-width="0.8"/><line x1="760.9" y1="396.9" x2="760.9" y2="404.8" stroke="#fff" stroke-opacity="0.19" stroke-width="0.9"/><line x1="763.4" y1="397.3" x2="763.4" y2="401.2" stroke="#fff" stroke-opacity="0.14" stroke-width="0.9"/><line x1="763.7" y1="397.3" x2="763.7" y2="417.4" stroke="#fff" stroke-opacity="0.15" stroke-width="0.8"/><line x1="766.2" y1="397.7" x2="766.2" y2="402.1" stroke="#fff" stroke-opacity="0.22" stroke-width="1.2"/><line x1="768.5" y1="398.0" x2="768.5" y2="419.4" stroke="#fff" stroke-opacity="0.09" stroke-width="1.0"/><line x1="770.8" y1="398.4" x2="770.8" y2="407.1" stroke="#fff" stroke-opacity="0.17" stroke-width="0.9"/><line x1="771.1" y1="398.4" x2="771.1" y2="415.9" stroke="#fff" stroke-opacity="0.09" stroke-width="0.8"/><line x1="773.2" y1="398.8" x2="773.2" y2="405.4" stroke="#fff" stroke-opacity="0.22" stroke-width="1.2"/><line x1="773.5" y1="398.8" x2="773.5" y2="418.3" stroke="#fff" stroke-opacity="0.12" stroke-width="0.8"/><line x1="775.3" y1="399.1" x2="775.3" y2="407.2" stroke="#fff" stroke-opacity="0.17" stroke-width="1.0"/><line x1="777.5" y1="399.4" x2="777.5" y2="409.4" stroke="#fff" stroke-opacity="0.13" stroke-width="1.2"/><line x1="777.8" y1="399.4" x2="777.8" y2="419.8" stroke="#fff" stroke-opacity="0.06" stroke-width="0.8"/><line x1="780.4" y1="399.8" x2="780.4" y2="422.9" stroke="#fff" stroke-opacity="0.12" stroke-width="1.0"/><line x1="782.8" y1="400.2" x2="782.8" y2="404.6" stroke="#fff" stroke-opacity="0.17" stroke-width="0.9"/><line x1="783.1" y1="400.2" x2="783.1" y2="421.9" stroke="#fff" stroke-opacity="0.10" stroke-width="1.0"/><line x1="785.5" y1="400.6" x2="785.5" y2="409.8" stroke="#fff" stroke-opacity="0.15" stroke-width="1.0"/><line x1="785.8" y1="400.6" x2="785.8" y2="419.2" stroke="#fff" stroke-opacity="0.15" stroke-width="1.0"/><line x1="787.7" y1="401.0" x2="787.7" y2="406.0" stroke="#fff" stroke-opacity="0.23" stroke-width="1.2"/><line x1="788.0" y1="401.0" x2="788.0" y2="416.3" stroke="#fff" stroke-opacity="0.11" stroke-width="0.8"/><line x1="789.9" y1="401.3" x2="789.9" y2="406.1" stroke="#fff" stroke-opacity="0.18" stroke-width="1.2"/><line x1="790.2" y1="401.3" x2="790.2" y2="423.1" stroke="#fff" stroke-opacity="0.10" stroke-width="1.0"/><line x1="792.4" y1="401.7" x2="792.4" y2="406.4" stroke="#fff" stroke-opacity="0.12" stroke-width="0.9"/><line x1="794.8" y1="401.9" x2="794.8" y2="405.0" stroke="#fff" stroke-opacity="0.18" stroke-width="1.2"/><line x1="797.3" y1="402.2" x2="797.3" y2="409.4" stroke="#fff" stroke-opacity="0.19" stroke-width="1.2"/><line x1="797.6" y1="402.2" x2="797.6" y2="415.4" stroke="#fff" stroke-opacity="0.13" stroke-width="0.8"/><line x1="799.3" y1="402.4" x2="799.3" y2="405.2" stroke="#fff" stroke-opacity="0.21" stroke-width="1.2"/><line x1="799.6" y1="402.4" x2="799.6" y2="422.2" stroke="#fff" stroke-opacity="0.08" stroke-width="1.0"/><line x1="801.7" y1="402.6" x2="801.7" y2="407.2" stroke="#fff" stroke-opacity="0.17" stroke-width="1.0"/><line x1="802.0" y1="402.6" x2="802.0" y2="419.8" stroke="#fff" stroke-opacity="0.12" stroke-width="0.8"/><line x1="804.1" y1="402.9" x2="804.1" y2="410.7" stroke="#fff" stroke-opacity="0.21" stroke-width="1.0"/><line x1="804.4" y1="402.9" x2="804.4" y2="422.7" stroke="#fff" stroke-opacity="0.11" stroke-width="0.8"/><line x1="806.7" y1="403.1" x2="806.7" y2="411.9" stroke="#fff" stroke-opacity="0.19" stroke-width="0.9"/><line x1="807.0" y1="403.1" x2="807.0" y2="418.7" stroke="#fff" stroke-opacity="0.07" stroke-width="1.0"/><line x1="808.8" y1="403.3" x2="808.8" y2="406.0" stroke="#fff" stroke-opacity="0.12" stroke-width="1.2"/><line x1="812.0" y1="403.6" x2="812.0" y2="416.6" stroke="#fff" stroke-opacity="0.11" stroke-width="1.0"/><line x1="814.3" y1="403.9" x2="814.3" y2="410.8" stroke="#fff" stroke-opacity="0.14" stroke-width="0.9"/><line x1="814.6" y1="403.9" x2="814.6" y2="421.5" stroke="#fff" stroke-opacity="0.14" stroke-width="0.8"/><line x1="817.0" y1="404.1" x2="817.0" y2="410.4" stroke="#fff" stroke-opacity="0.20" stroke-width="1.0"/><line x1="820.1" y1="404.4" x2="820.1" y2="416.3" stroke="#fff" stroke-opacity="0.07" stroke-width="0.8"/><line x1="822.0" y1="404.6" x2="822.0" y2="410.6" stroke="#fff" stroke-opacity="0.23" stroke-width="1.0"/><line x1="822.0" y1="404.6" x2="822.0" y2="423.5" stroke="#fff" stroke-opacity="0.27" stroke-width="0.9"/><line x1="822.3" y1="404.6" x2="822.3" y2="423.1" stroke="#fff" stroke-opacity="0.14" stroke-width="1.0"/><line x1="824.6" y1="404.9" x2="824.6" y2="411.9" stroke="#fff" stroke-opacity="0.16" stroke-width="1.2"/><line x1="824.6" y1="404.9" x2="824.6" y2="423.5" stroke="#fff" stroke-opacity="0.18" stroke-width="0.9"/><line x1="827.0" y1="405.1" x2="827.0" y2="410.1" stroke="#fff" stroke-opacity="0.15" stroke-width="1.2"/><line x1="827.3" y1="405.1" x2="827.3" y2="418.4" stroke="#fff" stroke-opacity="0.13" stroke-width="1.0"/><line x1="829.8" y1="405.4" x2="829.8" y2="407.8" stroke="#fff" stroke-opacity="0.14" stroke-width="1.0"/><line x1="830.1" y1="405.4" x2="830.1" y2="423.4" stroke="#fff" stroke-opacity="0.09" stroke-width="1.0"/><line x1="832.4" y1="405.7" x2="832.4" y2="413.0" stroke="#fff" stroke-opacity="0.21" stroke-width="1.0"/><line x1="832.4" y1="405.7" x2="832.4" y2="423.6" stroke="#fff" stroke-opacity="0.29" stroke-width="0.9"/><line x1="832.7" y1="405.7" x2="832.7" y2="418.5" stroke="#fff" stroke-opacity="0.08" stroke-width="0.8"/><line x1="834.5" y1="405.9" x2="834.5" y2="413.1" stroke="#fff" stroke-opacity="0.23" stroke-width="0.9"/><line x1="834.5" y1="405.9" x2="834.5" y2="423.6" stroke="#fff" stroke-opacity="0.20" stroke-width="0.9"/><line x1="837.3" y1="406.2" x2="837.3" y2="413.4" stroke="#fff" stroke-opacity="0.16" stroke-width="0.9"/><line x1="837.3" y1="406.2" x2="837.3" y2="423.6" stroke="#fff" stroke-opacity="0.26" stroke-width="0.9"/><line x1="837.6" y1="406.2" x2="837.6" y2="419.4" stroke="#fff" stroke-opacity="0.15" stroke-width="0.8"/><line x1="839.5" y1="406.4" x2="839.5" y2="410.7" stroke="#fff" stroke-opacity="0.20" stroke-width="1.0"/><line x1="839.5" y1="406.4" x2="839.5" y2="423.6" stroke="#fff" stroke-opacity="0.27" stroke-width="0.9"/><line x1="839.8" y1="406.4" x2="839.8" y2="419.5" stroke="#fff" stroke-opacity="0.12" stroke-width="1.0"/><line x1="842.1" y1="406.6" x2="842.1" y2="411.9" stroke="#fff" stroke-opacity="0.22" stroke-width="1.2"/><line x1="842.1" y1="406.6" x2="842.1" y2="423.7" stroke="#fff" stroke-opacity="0.21" stroke-width="0.9"/><line x1="842.4" y1="406.6" x2="842.4" y2="418.4" stroke="#fff" stroke-opacity="0.08" stroke-width="0.8"/><line x1="844.2" y1="406.8" x2="844.2" y2="411.0" stroke="#fff" stroke-opacity="0.18" stroke-width="1.0"/><line x1="847.0" y1="407.1" x2="847.0" y2="414.0" stroke="#fff" stroke-opacity="0.17" stroke-width="0.9"/><line x1="847.0" y1="407.1" x2="847.0" y2="423.7" stroke="#fff" stroke-opacity="0.22" stroke-width="0.9"/><line x1="847.3" y1="407.1" x2="847.3" y2="417.8" stroke="#fff" stroke-opacity="0.09" stroke-width="0.8"/><line x1="849.2" y1="407.3" x2="849.2" y2="409.6" stroke="#fff" stroke-opacity="0.12" stroke-width="1.2"/><line x1="849.2" y1="407.3" x2="849.2" y2="423.7" stroke="#fff" stroke-opacity="0.25" stroke-width="0.9"/><line x1="849.5" y1="407.3" x2="849.5" y2="419.1" stroke="#fff" stroke-opacity="0.15" stroke-width="1.0"/><line x1="851.2" y1="407.5" x2="851.2" y2="412.7" stroke="#fff" stroke-opacity="0.19" stroke-width="0.9"/><line x1="851.2" y1="407.5" x2="851.2" y2="423.7" stroke="#fff" stroke-opacity="0.20" stroke-width="0.9"/><line x1="851.5" y1="407.5" x2="851.5" y2="418.7" stroke="#fff" stroke-opacity="0.08" stroke-width="0.8"/><line x1="853.1" y1="407.7" x2="853.1" y2="411.7" stroke="#fff" stroke-opacity="0.20" stroke-width="1.0"/><line x1="853.1" y1="407.7" x2="853.1" y2="423.8" stroke="#fff" stroke-opacity="0.34" stroke-width="0.9"/><line x1="855.1" y1="407.8" x2="855.1" y2="411.9" stroke="#fff" stroke-opacity="0.13" stroke-width="0.9"/><line x1="855.1" y1="407.8" x2="855.1" y2="423.8" stroke="#fff" stroke-opacity="0.20" stroke-width="0.9"/><line x1="855.4" y1="407.8" x2="855.4" y2="421.6" stroke="#fff" stroke-opacity="0.17" stroke-width="1.0"/><line x1="857.5" y1="408.0" x2="857.5" y2="419.1" stroke="#fff" stroke-opacity="0.14" stroke-width="0.8"/><line x1="859.1" y1="408.2" x2="859.1" y2="412.0" stroke="#fff" stroke-opacity="0.22" stroke-width="0.9"/><line x1="859.1" y1="408.2" x2="859.1" y2="423.8" stroke="#fff" stroke-opacity="0.32" stroke-width="0.9"/><line x1="859.4" y1="408.2" x2="859.4" y2="422.5" stroke="#fff" stroke-opacity="0.14" stroke-width="1.0"/><line x1="861.1" y1="408.3" x2="861.1" y2="414.0" stroke="#fff" stroke-opacity="0.22" stroke-width="1.2"/><line x1="861.1" y1="408.3" x2="861.1" y2="423.8" stroke="#fff" stroke-opacity="0.30" stroke-width="0.9"/><line x1="861.4" y1="408.3" x2="861.4" y2="420.5" stroke="#fff" stroke-opacity="0.13" stroke-width="1.0"/><line x1="863.3" y1="408.5" x2="863.3" y2="411.2" stroke="#fff" stroke-opacity="0.17" stroke-width="0.9"/><line x1="863.3" y1="408.5" x2="863.3" y2="423.8" stroke="#fff" stroke-opacity="0.24" stroke-width="0.9"/><line x1="866.4" y1="408.7" x2="866.4" y2="423.4" stroke="#fff" stroke-opacity="0.15" stroke-width="0.8"/><line x1="868.9" y1="408.9" x2="868.9" y2="415.3" stroke="#fff" stroke-opacity="0.22" stroke-width="1.2"/><line x1="868.9" y1="408.9" x2="868.9" y2="423.9" stroke="#fff" stroke-opacity="0.18" stroke-width="0.9"/><line x1="869.2" y1="408.9" x2="869.2" y2="418.7" stroke="#fff" stroke-opacity="0.16" stroke-width="0.8"/><line x1="871.5" y1="409.1" x2="871.5" y2="412.7" stroke="#fff" stroke-opacity="0.21" stroke-width="1.0"/><line x1="871.5" y1="409.1" x2="871.5" y2="423.9" stroke="#fff" stroke-opacity="0.17" stroke-width="0.9"/><line x1="871.8" y1="409.1" x2="871.8" y2="420.1" stroke="#fff" stroke-opacity="0.14" stroke-width="0.8"/><line x1="874.1" y1="409.3" x2="874.1" y2="412.0" stroke="#fff" stroke-opacity="0.22" stroke-width="1.0"/><line x1="874.1" y1="409.3" x2="874.1" y2="423.9" stroke="#fff" stroke-opacity="0.23" stroke-width="0.9"/><line x1="874.4" y1="409.3" x2="874.4" y2="418.5" stroke="#fff" stroke-opacity="0.12" stroke-width="1.0"/><line x1="876.3" y1="409.5" x2="876.3" y2="413.7" stroke="#fff" stroke-opacity="0.15" stroke-width="1.0"/><line x1="876.3" y1="409.5" x2="876.3" y2="424.0" stroke="#fff" stroke-opacity="0.17" stroke-width="0.9"/><line x1="880.4" y1="409.8" x2="880.4" y2="413.0" stroke="#fff" stroke-opacity="0.15" stroke-width="0.9"/><line x1="880.4" y1="409.8" x2="880.4" y2="424.0" stroke="#fff" stroke-opacity="0.34" stroke-width="0.9"/><line x1="880.7" y1="409.8" x2="880.7" y2="420.0" stroke="#fff" stroke-opacity="0.09" stroke-width="0.8"/><line x1="882.4" y1="410.0" x2="882.4" y2="415.8" stroke="#fff" stroke-opacity="0.13" stroke-width="1.2"/><line x1="882.4" y1="410.0" x2="882.4" y2="424.0" stroke="#fff" stroke-opacity="0.35" stroke-width="0.9"/><line x1="882.7" y1="410.0" x2="882.7" y2="422.1" stroke="#fff" stroke-opacity="0.11" stroke-width="1.0"/><line x1="884.8" y1="410.1" x2="884.8" y2="415.4" stroke="#fff" stroke-opacity="0.22" stroke-width="1.0"/><line x1="884.8" y1="410.1" x2="884.8" y2="424.0" stroke="#fff" stroke-opacity="0.19" stroke-width="0.9"/><line x1="885.1" y1="410.1" x2="885.1" y2="423.6" stroke="#fff" stroke-opacity="0.08" stroke-width="0.8"/><line x1="886.8" y1="410.3" x2="886.8" y2="415.4" stroke="#fff" stroke-opacity="0.20" stroke-width="0.9"/><line x1="886.8" y1="410.3" x2="886.8" y2="424.0" stroke="#fff" stroke-opacity="0.27" stroke-width="0.9"/><line x1="889.6" y1="410.4" x2="889.6" y2="415.5" stroke="#fff" stroke-opacity="0.14" stroke-width="0.9"/><line x1="892.5" y1="410.6" x2="892.5" y2="420.0" stroke="#fff" stroke-opacity="0.07" stroke-width="1.0"/><line x1="895.3" y1="410.8" x2="895.3" y2="420.8" stroke="#fff" stroke-opacity="0.09" stroke-width="1.0"/><line x1="897.0" y1="410.9" x2="897.0" y2="415.8" stroke="#fff" stroke-opacity="0.13" stroke-width="1.2"/><line x1="897.0" y1="410.9" x2="897.0" y2="424.1" stroke="#fff" stroke-opacity="0.20" stroke-width="0.9"/><line x1="897.3" y1="410.9" x2="897.3" y2="423.2" stroke="#fff" stroke-opacity="0.10" stroke-width="0.8"/><line x1="899.6" y1="411.1" x2="899.6" y2="416.3" stroke="#fff" stroke-opacity="0.16" stroke-width="1.0"/><line x1="899.6" y1="411.1" x2="899.6" y2="424.1" stroke="#fff" stroke-opacity="0.34" stroke-width="0.9"/><line x1="899.9" y1="411.1" x2="899.9" y2="420.9" stroke="#fff" stroke-opacity="0.09" stroke-width="1.0"/><line x1="902.6" y1="411.2" x2="902.6" y2="423.6" stroke="#fff" stroke-opacity="0.09" stroke-width="0.8"/><line x1="905.1" y1="411.4" x2="905.1" y2="415.2" stroke="#fff" stroke-opacity="0.18" stroke-width="1.2"/><line x1="905.1" y1="411.4" x2="905.1" y2="424.1" stroke="#fff" stroke-opacity="0.18" stroke-width="0.9"/><line x1="905.4" y1="411.4" x2="905.4" y2="419.7" stroke="#fff" stroke-opacity="0.13" stroke-width="0.8"/><line x1="907.1" y1="411.6" x2="907.1" y2="416.5" stroke="#fff" stroke-opacity="0.12" stroke-width="0.9"/><line x1="907.1" y1="411.6" x2="907.1" y2="424.1" stroke="#fff" stroke-opacity="0.34" stroke-width="0.9"/><line x1="911.6" y1="411.9" x2="911.6" y2="415.3" stroke="#fff" stroke-opacity="0.16" stroke-width="0.9"/><line x1="911.6" y1="411.9" x2="911.6" y2="424.1" stroke="#fff" stroke-opacity="0.29" stroke-width="0.9"/><line x1="911.9" y1="411.9" x2="911.9" y2="420.0" stroke="#fff" stroke-opacity="0.11" stroke-width="1.0"/><line x1="913.6" y1="412.0" x2="913.6" y2="417.0" stroke="#fff" stroke-opacity="0.18" stroke-width="0.9"/><line x1="913.6" y1="412.0" x2="913.6" y2="424.1" stroke="#fff" stroke-opacity="0.32" stroke-width="0.9"/><line x1="913.9" y1="412.0" x2="913.9" y2="422.2" stroke="#fff" stroke-opacity="0.14" stroke-width="0.8"/><line x1="916.5" y1="412.2" x2="916.5" y2="416.2" stroke="#fff" stroke-opacity="0.20" stroke-width="1.2"/><line x1="916.5" y1="412.2" x2="916.5" y2="424.2" stroke="#fff" stroke-opacity="0.32" stroke-width="0.9"/><line x1="916.8" y1="412.2" x2="916.8" y2="421.4" stroke="#fff" stroke-opacity="0.16" stroke-width="1.0"/><line x1="918.7" y1="412.3" x2="918.7" y2="415.2" stroke="#fff" stroke-opacity="0.17" stroke-width="1.2"/><line x1="918.7" y1="412.3" x2="918.7" y2="424.2" stroke="#fff" stroke-opacity="0.31" stroke-width="0.9"/><line x1="921.7" y1="412.5" x2="921.7" y2="422.0" stroke="#fff" stroke-opacity="0.17" stroke-width="1.0"/><line x1="923.6" y1="412.6" x2="923.6" y2="416.6" stroke="#fff" stroke-opacity="0.16" stroke-width="1.2"/><line x1="923.6" y1="412.6" x2="923.6" y2="424.2" stroke="#fff" stroke-opacity="0.19" stroke-width="0.9"/><line x1="923.9" y1="412.6" x2="923.9" y2="420.7" stroke="#fff" stroke-opacity="0.13" stroke-width="0.8"/><line x1="928.5" y1="413.0" x2="928.5" y2="417.4" stroke="#fff" stroke-opacity="0.22" stroke-width="0.9"/><line x1="928.5" y1="413.0" x2="928.5" y2="424.2" stroke="#fff" stroke-opacity="0.16" stroke-width="0.9"/><line x1="930.6" y1="413.1" x2="930.6" y2="415.7" stroke="#fff" stroke-opacity="0.18" stroke-width="0.9"/><line x1="930.6" y1="413.1" x2="930.6" y2="424.2" stroke="#fff" stroke-opacity="0.27" stroke-width="0.9"/><line x1="930.9" y1="413.1" x2="930.9" y2="422.2" stroke="#fff" stroke-opacity="0.11" stroke-width="0.8"/><line x1="932.8" y1="413.3" x2="932.8" y2="417.1" stroke="#fff" stroke-opacity="0.13" stroke-width="1.2"/><line x1="932.8" y1="413.3" x2="932.8" y2="424.2" stroke="#fff" stroke-opacity="0.34" stroke-width="0.9"/><line x1="935.6" y1="413.5" x2="935.6" y2="417.0" stroke="#fff" stroke-opacity="0.22" stroke-width="1.0"/><line x1="935.6" y1="413.5" x2="935.6" y2="424.2" stroke="#fff" stroke-opacity="0.17" stroke-width="0.9"/><line x1="935.9" y1="413.5" x2="935.9" y2="421.4" stroke="#fff" stroke-opacity="0.10" stroke-width="1.0"/><line x1="937.8" y1="413.6" x2="937.8" y2="417.6" stroke="#fff" stroke-opacity="0.15" stroke-width="1.0"/><line x1="940.3" y1="413.8" x2="940.3" y2="416.0" stroke="#fff" stroke-opacity="0.20" stroke-width="1.0"/><line x1="940.3" y1="413.8" x2="940.3" y2="424.2" stroke="#fff" stroke-opacity="0.33" stroke-width="0.9"/><line x1="940.6" y1="413.8" x2="940.6" y2="422.2" stroke="#fff" stroke-opacity="0.15" stroke-width="0.8"/><line x1="942.4" y1="413.9" x2="942.4" y2="417.1" stroke="#fff" stroke-opacity="0.16" stroke-width="1.2"/><line x1="942.4" y1="413.9" x2="942.4" y2="424.3" stroke="#fff" stroke-opacity="0.23" stroke-width="0.9"/><line x1="944.8" y1="414.1" x2="944.8" y2="421.7" stroke="#fff" stroke-opacity="0.09" stroke-width="0.8"/><line x1="946.7" y1="414.2" x2="946.7" y2="416.3" stroke="#fff" stroke-opacity="0.13" stroke-width="1.0"/><line x1="947.0" y1="414.2" x2="947.0" y2="420.7" stroke="#fff" stroke-opacity="0.10" stroke-width="1.0"/><line x1="948.9" y1="414.4" x2="948.9" y2="417.5" stroke="#fff" stroke-opacity="0.23" stroke-width="1.2"/><line x1="951.0" y1="414.5" x2="951.0" y2="417.1" stroke="#fff" stroke-opacity="0.19" stroke-width="1.2"/><line x1="951.0" y1="414.5" x2="951.0" y2="424.3" stroke="#fff" stroke-opacity="0.27" stroke-width="0.9"/><line x1="951.3" y1="414.5" x2="951.3" y2="423.7" stroke="#fff" stroke-opacity="0.07" stroke-width="1.0"/><line x1="953.1" y1="414.7" x2="953.1" y2="418.0" stroke="#fff" stroke-opacity="0.20" stroke-width="1.0"/><line x1="953.1" y1="414.7" x2="953.1" y2="424.3" stroke="#fff" stroke-opacity="0.32" stroke-width="0.9"/><line x1="953.4" y1="414.7" x2="953.4" y2="423.5" stroke="#fff" stroke-opacity="0.12" stroke-width="1.0"/><line x1="955.7" y1="414.9" x2="955.7" y2="423.8" stroke="#fff" stroke-opacity="0.09" stroke-width="0.8"/><line x1="957.7" y1="415.0" x2="957.7" y2="417.8" stroke="#fff" stroke-opacity="0.20" stroke-width="1.0"/><line x1="957.7" y1="415.0" x2="957.7" y2="424.3" stroke="#fff" stroke-opacity="0.22" stroke-width="0.9"/><line x1="958.0" y1="415.0" x2="958.0" y2="422.9" stroke="#fff" stroke-opacity="0.13" stroke-width="0.8"/><line x1="960.7" y1="415.1" x2="960.7" y2="422.4" stroke="#fff" stroke-opacity="0.08" stroke-width="1.0"/><line x1="963.1" y1="415.2" x2="963.1" y2="417.7" stroke="#fff" stroke-opacity="0.15" stroke-width="1.0"/><line x1="963.1" y1="415.2" x2="963.1" y2="424.3" stroke="#fff" stroke-opacity="0.21" stroke-width="0.9"/><line x1="966.2" y1="415.3" x2="966.2" y2="422.4" stroke="#fff" stroke-opacity="0.16" stroke-width="0.8"/><line x1="967.8" y1="415.3" x2="967.8" y2="419.2" stroke="#fff" stroke-opacity="0.15" stroke-width="1.2"/><line x1="967.8" y1="415.3" x2="967.8" y2="424.4" stroke="#fff" stroke-opacity="0.30" stroke-width="0.9"/><line x1="968.1" y1="415.3" x2="968.1" y2="424.4" stroke="#fff" stroke-opacity="0.12" stroke-width="1.0"/><line x1="970.1" y1="415.4" x2="970.1" y2="418.4" stroke="#fff" stroke-opacity="0.16" stroke-width="0.9"/><line x1="970.1" y1="415.4" x2="970.1" y2="424.4" stroke="#fff" stroke-opacity="0.29" stroke-width="0.9"/><line x1="970.4" y1="415.4" x2="970.4" y2="421.4" stroke="#fff" stroke-opacity="0.10" stroke-width="1.0"/><line x1="972.9" y1="415.5" x2="972.9" y2="421.7" stroke="#fff" stroke-opacity="0.11" stroke-width="1.0"/><line x1="975.0" y1="415.6" x2="975.0" y2="419.6" stroke="#fff" stroke-opacity="0.16" stroke-width="1.2"/><line x1="975.0" y1="415.6" x2="975.0" y2="424.4" stroke="#fff" stroke-opacity="0.30" stroke-width="0.9"/><line x1="975.3" y1="415.6" x2="975.3" y2="422.3" stroke="#fff" stroke-opacity="0.10" stroke-width="0.8"/><line x1="977.7" y1="415.7" x2="977.7" y2="417.4" stroke="#fff" stroke-opacity="0.22" stroke-width="1.2"/><line x1="977.7" y1="415.7" x2="977.7" y2="424.4" stroke="#fff" stroke-opacity="0.22" stroke-width="0.9"/><line x1="982.8" y1="415.8" x2="982.8" y2="424.1" stroke="#fff" stroke-opacity="0.11" stroke-width="0.8"/><line x1="985.0" y1="415.9" x2="985.0" y2="418.2" stroke="#fff" stroke-opacity="0.23" stroke-width="1.2"/><line x1="985.0" y1="415.9" x2="985.0" y2="424.4" stroke="#fff" stroke-opacity="0.29" stroke-width="0.9"/><line x1="987.0" y1="416.0" x2="987.0" y2="419.2" stroke="#fff" stroke-opacity="0.18" stroke-width="1.0"/><line x1="987.0" y1="416.0" x2="987.0" y2="424.4" stroke="#fff" stroke-opacity="0.23" stroke-width="0.9"/><line x1="987.3" y1="416.0" x2="987.3" y2="421.3" stroke="#fff" stroke-opacity="0.06" stroke-width="0.8"/><line x1="989.4" y1="416.1" x2="989.4" y2="418.1" stroke="#fff" stroke-opacity="0.19" stroke-width="1.2"/><line x1="989.4" y1="416.1" x2="989.4" y2="424.5" stroke="#fff" stroke-opacity="0.25" stroke-width="0.9"/><line x1="989.7" y1="416.1" x2="989.7" y2="422.0" stroke="#fff" stroke-opacity="0.13" stroke-width="0.8"/><line x1="991.4" y1="416.1" x2="991.4" y2="417.8" stroke="#fff" stroke-opacity="0.13" stroke-width="0.9"/><line x1="993.8" y1="416.2" x2="993.8" y2="418.6" stroke="#fff" stroke-opacity="0.21" stroke-width="1.2"/><line x1="993.8" y1="416.2" x2="993.8" y2="424.5" stroke="#fff" stroke-opacity="0.15" stroke-width="0.9"/><line x1="996.0" y1="416.3" x2="996.0" y2="418.5" stroke="#fff" stroke-opacity="0.14" stroke-width="1.0"/><line x1="999.1" y1="416.4" x2="999.1" y2="422.1" stroke="#fff" stroke-opacity="0.13" stroke-width="0.8"/><line x1="1001.0" y1="416.4" x2="1001.0" y2="424.4" stroke="#fff" stroke-opacity="0.11" stroke-width="0.8"/><line x1="1002.9" y1="416.5" x2="1002.9" y2="420.1" stroke="#fff" stroke-opacity="0.21" stroke-width="1.0"/><line x1="1002.9" y1="416.5" x2="1002.9" y2="424.5" stroke="#fff" stroke-opacity="0.15" stroke-width="0.9"/><line x1="1005.2" y1="416.6" x2="1005.2" y2="418.5" stroke="#fff" stroke-opacity="0.22" stroke-width="0.9"/><line x1="1005.2" y1="416.6" x2="1005.2" y2="424.5" stroke="#fff" stroke-opacity="0.20" stroke-width="0.9"/><line x1="1005.5" y1="416.6" x2="1005.5" y2="423.7" stroke="#fff" stroke-opacity="0.08" stroke-width="1.0"/><line x1="1007.5" y1="416.7" x2="1007.5" y2="418.1" stroke="#fff" stroke-opacity="0.22" stroke-width="0.9"/><line x1="1007.8" y1="416.7" x2="1007.8" y2="422.7" stroke="#fff" stroke-opacity="0.08" stroke-width="1.0"/><line x1="1009.8" y1="416.8" x2="1009.8" y2="418.8" stroke="#fff" stroke-opacity="0.22" stroke-width="1.0"/><line x1="1009.8" y1="416.8" x2="1009.8" y2="424.5" stroke="#fff" stroke-opacity="0.23" stroke-width="0.9"/><line x1="1010.1" y1="416.8" x2="1010.1" y2="422.0" stroke="#fff" stroke-opacity="0.15" stroke-width="1.0"/><line x1="1012.3" y1="416.8" x2="1012.3" y2="419.2" stroke="#fff" stroke-opacity="0.16" stroke-width="1.0"/><line x1="1012.3" y1="416.8" x2="1012.3" y2="424.5" stroke="#fff" stroke-opacity="0.16" stroke-width="0.9"/><line x1="1014.5" y1="416.9" x2="1014.5" y2="419.8" stroke="#fff" stroke-opacity="0.13" stroke-width="1.0"/><line x1="1014.5" y1="416.9" x2="1014.5" y2="424.6" stroke="#fff" stroke-opacity="0.26" stroke-width="0.9"/><line x1="1017.0" y1="417.0" x2="1017.0" y2="420.1" stroke="#fff" stroke-opacity="0.15" stroke-width="1.0"/><line x1="1017.0" y1="417.0" x2="1017.0" y2="424.6" stroke="#fff" stroke-opacity="0.22" stroke-width="0.9"/><line x1="1019.6" y1="417.1" x2="1019.6" y2="424.4" stroke="#fff" stroke-opacity="0.12" stroke-width="0.8"/><line x1="1022.0" y1="417.2" x2="1022.0" y2="420.5" stroke="#fff" stroke-opacity="0.23" stroke-width="1.2"/><line x1="1022.0" y1="417.2" x2="1022.0" y2="424.6" stroke="#fff" stroke-opacity="0.33" stroke-width="0.9"/><line x1="1022.3" y1="417.2" x2="1022.3" y2="422.9" stroke="#fff" stroke-opacity="0.09" stroke-width="0.8"/><line x1="1024.0" y1="417.2" x2="1024.0" y2="420.0" stroke="#fff" stroke-opacity="0.13" stroke-width="1.0"/><line x1="1026.7" y1="417.3" x2="1026.7" y2="420.1" stroke="#fff" stroke-opacity="0.14" stroke-width="0.9"/><line x1="1026.7" y1="417.3" x2="1026.7" y2="424.6" stroke="#fff" stroke-opacity="0.23" stroke-width="0.9"/><line x1="1027.0" y1="417.3" x2="1027.0" y2="422.4" stroke="#fff" stroke-opacity="0.15" stroke-width="1.0"/><line x1="1029.1" y1="417.4" x2="1029.1" y2="424.4" stroke="#fff" stroke-opacity="0.15" stroke-width="1.0"/><line x1="1030.9" y1="417.5" x2="1030.9" y2="418.9" stroke="#fff" stroke-opacity="0.15" stroke-width="1.2"/><line x1="1031.2" y1="417.5" x2="1031.2" y2="422.9" stroke="#fff" stroke-opacity="0.15" stroke-width="1.0"/><line x1="1035.6" y1="417.6" x2="1035.6" y2="418.9" stroke="#fff" stroke-opacity="0.19" stroke-width="1.2"/><line x1="1035.6" y1="417.6" x2="1035.6" y2="424.6" stroke="#fff" stroke-opacity="0.29" stroke-width="0.9"/><line x1="1037.5" y1="417.7" x2="1037.5" y2="419.9" stroke="#fff" stroke-opacity="0.23" stroke-width="1.0"/><line x1="1037.8" y1="417.7" x2="1037.8" y2="423.7" stroke="#fff" stroke-opacity="0.08" stroke-width="0.8"/><line x1="1039.7" y1="417.8" x2="1039.7" y2="419.4" stroke="#fff" stroke-opacity="0.19" stroke-width="1.0"/><line x1="1039.7" y1="417.8" x2="1039.7" y2="424.7" stroke="#fff" stroke-opacity="0.16" stroke-width="0.9"/><line x1="1040.0" y1="417.8" x2="1040.0" y2="422.6" stroke="#fff" stroke-opacity="0.09" stroke-width="1.0"/><line x1="1042.3" y1="417.8" x2="1042.3" y2="420.3" stroke="#fff" stroke-opacity="0.22" stroke-width="1.2"/><line x1="1042.3" y1="417.8" x2="1042.3" y2="424.7" stroke="#fff" stroke-opacity="0.32" stroke-width="0.9"/><line x1="1042.6" y1="417.8" x2="1042.6" y2="424.0" stroke="#fff" stroke-opacity="0.09" stroke-width="1.0"/><line x1="1044.9" y1="417.9" x2="1044.9" y2="421.0" stroke="#fff" stroke-opacity="0.13" stroke-width="1.2"/><line x1="1044.9" y1="417.9" x2="1044.9" y2="424.7" stroke="#fff" stroke-opacity="0.21" stroke-width="0.9"/><line x1="1045.2" y1="417.9" x2="1045.2" y2="424.3" stroke="#fff" stroke-opacity="0.13" stroke-width="0.8"/><line x1="1047.8" y1="418.0" x2="1047.8" y2="419.3" stroke="#fff" stroke-opacity="0.16" stroke-width="1.0"/><line x1="1047.8" y1="418.0" x2="1047.8" y2="424.7" stroke="#fff" stroke-opacity="0.30" stroke-width="0.9"/><line x1="1048.1" y1="418.0" x2="1048.1" y2="424.0" stroke="#fff" stroke-opacity="0.10" stroke-width="0.8"/><line x1="1050.0" y1="418.1" x2="1050.0" y2="421.1" stroke="#fff" stroke-opacity="0.17" stroke-width="1.0"/><line x1="1050.0" y1="418.1" x2="1050.0" y2="424.7" stroke="#fff" stroke-opacity="0.29" stroke-width="0.9"/><line x1="1052.7" y1="418.2" x2="1052.7" y2="420.2" stroke="#fff" stroke-opacity="0.13" stroke-width="1.2"/><line x1="1052.7" y1="418.2" x2="1052.7" y2="424.7" stroke="#fff" stroke-opacity="0.19" stroke-width="0.9"/><line x1="1055.4" y1="418.3" x2="1055.4" y2="420.4" stroke="#fff" stroke-opacity="0.14" stroke-width="1.2"/><line x1="1057.9" y1="418.4" x2="1057.9" y2="419.8" stroke="#fff" stroke-opacity="0.21" stroke-width="0.9"/><line x1="1057.9" y1="418.4" x2="1057.9" y2="424.7" stroke="#fff" stroke-opacity="0.26" stroke-width="0.9"/><line x1="1058.2" y1="418.4" x2="1058.2" y2="422.6" stroke="#fff" stroke-opacity="0.10" stroke-width="1.0"/><line x1="1059.9" y1="418.4" x2="1059.9" y2="419.9" stroke="#fff" stroke-opacity="0.20" stroke-width="1.0"/><line x1="1059.9" y1="418.4" x2="1059.9" y2="424.7" stroke="#fff" stroke-opacity="0.28" stroke-width="0.9"/><line x1="1060.2" y1="418.4" x2="1060.2" y2="423.0" stroke="#fff" stroke-opacity="0.12" stroke-width="1.0"/><line x1="1061.9" y1="418.5" x2="1061.9" y2="420.9" stroke="#fff" stroke-opacity="0.13" stroke-width="1.2"/><line x1="1061.9" y1="418.5" x2="1061.9" y2="424.8" stroke="#fff" stroke-opacity="0.18" stroke-width="0.9"/><line x1="1062.2" y1="418.5" x2="1062.2" y2="423.2" stroke="#fff" stroke-opacity="0.15" stroke-width="1.0"/><line x1="1064.6" y1="418.6" x2="1064.6" y2="420.9" stroke="#fff" stroke-opacity="0.19" stroke-width="1.0"/><line x1="1064.6" y1="418.6" x2="1064.6" y2="424.8" stroke="#fff" stroke-opacity="0.32" stroke-width="0.9"/><line x1="1064.9" y1="418.6" x2="1064.9" y2="423.0" stroke="#fff" stroke-opacity="0.14" stroke-width="0.8"/><line x1="1066.8" y1="418.7" x2="1066.8" y2="419.9" stroke="#fff" stroke-opacity="0.15" stroke-width="0.9"/><line x1="1066.8" y1="418.7" x2="1066.8" y2="424.8" stroke="#fff" stroke-opacity="0.17" stroke-width="0.9"/><line x1="1067.1" y1="418.7" x2="1067.1" y2="424.7" stroke="#fff" stroke-opacity="0.08" stroke-width="1.0"/><line x1="1069.2" y1="418.7" x2="1069.2" y2="420.2" stroke="#fff" stroke-opacity="0.13" stroke-width="0.9"/><line x1="1069.2" y1="418.7" x2="1069.2" y2="424.8" stroke="#fff" stroke-opacity="0.24" stroke-width="0.9"/><line x1="1071.6" y1="418.8" x2="1071.6" y2="420.5" stroke="#fff" stroke-opacity="0.20" stroke-width="1.0"/><line x1="1071.9" y1="418.8" x2="1071.9" y2="423.7" stroke="#fff" stroke-opacity="0.11" stroke-width="0.8"/><line x1="1074.3" y1="418.9" x2="1074.3" y2="420.7" stroke="#fff" stroke-opacity="0.13" stroke-width="1.0"/><line x1="1074.3" y1="418.9" x2="1074.3" y2="424.8" stroke="#fff" stroke-opacity="0.28" stroke-width="0.9"/><line x1="1076.8" y1="419.1" x2="1076.8" y2="420.7" stroke="#fff" stroke-opacity="0.14" stroke-width="0.9"/><line x1="1076.8" y1="419.1" x2="1076.8" y2="425.2" stroke="#fff" stroke-opacity="0.16" stroke-width="0.9"/><line x1="1077.1" y1="419.1" x2="1077.1" y2="423.3" stroke="#fff" stroke-opacity="0.10" stroke-width="0.8"/><line x1="1078.8" y1="419.2" x2="1078.8" y2="421.0" stroke="#fff" stroke-opacity="0.19" stroke-width="1.0"/><line x1="1079.1" y1="419.2" x2="1079.1" y2="425.1" stroke="#fff" stroke-opacity="0.10" stroke-width="1.0"/>
<line x1="482.8" y1="205.9" x2="482.8" y2="413" stroke="#fff" stroke-opacity="0.78" stroke-width="1.5"/><line x1="530.2" y1="146.5" x2="530.2" y2="217" stroke="#fff" stroke-opacity="0.8" stroke-width="1.5"/><line x1="708.3" y1="387.0" x2="708.3" y2="420.5" stroke="#fff" stroke-opacity="0.9" stroke-width="1.9"/><line x1="702.6" y1="386.0" x2="702.6" y2="405" stroke="#fff" stroke-opacity="0.7" stroke-width="1.1"/><line x1="468" y1="224.0" x2="468" y2="330" stroke="#fff" stroke-opacity="0.45" stroke-width="1.0"/><line x1="476" y1="214.0" x2="476" y2="300" stroke="#fff" stroke-opacity="0.45" stroke-width="1.0"/><line x1="444" y1="253.0" x2="444" y2="300" stroke="#fff" stroke-opacity="0.4" stroke-width="0.9"/>
<line x1="1082" y1="425.6" x2="1194" y2="426.2" stroke="#7e97d6" stroke-width="1.3"/>
</g>

<!-- frame -->
<g fill="#000">
<rect x="106" y="97.8" width="1091.3" height="3.5"/>
<rect x="106" y="438.2" width="1091" height="3.3"/>
<rect x="106" y="98" width="3.4" height="343.5"/>
<rect x="1193.4" y="98" width="3.5" height="344.2"/>
<!-- top ticks -->
<rect x="309.3" y="100" width="3.3" height="18.5"/>
<rect x="412.9" y="100" width="3.3" height="18.5"/>
<rect x="522.6" y="100" width="3.3" height="18.5"/>
<rect x="624.7" y="100" width="3.3" height="19.6"/>
<rect x="731.6" y="100" width="3.3" height="17.6"/>
<!-- left ticks -->
<rect x="108" y="211.3" width="8.8" height="3"/>
<rect x="108" y="362.7" width="8.8" height="3"/>
<rect x="108" y="135.7" width="4.6" height="2.2"/>
<rect x="108" y="287.3" width="4.6" height="2.2"/>
<!-- bottom ticks -->
<rect x="648.8" y="431" width="2.8" height="8"/>
<rect x="378" y="435.4" width="2.2" height="3.5"/>
<rect x="920.3" y="435.4" width="2.2" height="3.5"/>
<rect x="1190.5" y="432" width="3" height="8"/>
</g>

<!-- labels -->
<text x="30.6" y="97.6" font-size="44.5">(a)</text>
<text x="641" y="44.2" font-size="33" text-anchor="middle">Temperature (°C)</text>
<g font-size="33" text-anchor="middle">
<text x="307.5" y="87.5">100</text>
<text x="414.1" y="87.5">200</text>
<text x="526.3" y="87.5">230</text>
<text x="622.7" y="88.5">180</text>
<text x="727.7" y="87.3">150</text>
<text x="117" y="475">200</text>
<text x="649.5" y="473.2">400</text>
<text x="1187.6" y="476.6">600</text>
<text x="652" y="504.5">Time (s)</text>
</g>
<g font-size="33" text-anchor="end">
<text x="98.5" y="218.3">2</text>
<text x="98.5" y="370.4">1</text>
</g>
<text transform="translate(62.8,258) rotate(-90)" font-size="33" text-anchor="middle">Current (uA)</text>
<text x="1083.4" y="371.8" font-size="33" text-anchor="middle">Dark</text>
<text x="839" y="156.3" font-size="33" text-anchor="middle">electric iron</text>
<text x="979.7" y="321.7" font-size="33" text-anchor="middle">chopper</text>
<text x="1106.5" y="256.7" font-size="33" text-anchor="middle">detector</text>

<!-- Dark arrow -->
<line x1="1077" y1="380.5" x2="1077" y2="406" stroke="#000" stroke-width="1.6"/>
<polygon points="1070,404.7 1084,404.7 1077,418.2" fill="#000"/>

<!-- red curved arrow -->
<path d="M336.7 292.8 C352 290 368 279 380.4 264 C386 257 390 252 392.1 248 L377.2 240.5 L419.4 223 L429 267.2 L415.6 260.8 C411 268 407 273 403.8 276.8 C398 283 391 287.5 384.6 289.6 C370 295 352 295.5 336.7 292.8 Z" fill="#ef3a5f"/>
<!-- blue curved arrow -->
<path d="M603.7 213.2 C597 224 594.5 233 595.2 242.7 C596 253 597.5 262 600.5 270.4 C604 280 610 289 618.6 296.4 L608.4 309 L653.8 308 L645.3 264 L635.7 275.7 C628 270 622 263 617.6 255.4 C612 246 609 239 606.9 232 C605 225 604 219 603.7 213.2 Z" fill="#4472c4"/>

<!-- soldering iron -->
<g id="iron">
<rect x="843.2" y="324" width="4.8" height="14" fill="#0a0a0a"/>
<rect x="841.4" y="320" width="9.5" height="5.6" fill="#4f80b2"/>
<rect x="842.1" y="173" width="8" height="36" fill="url(#gTip)"/>
<polygon points="841.6,174.8 845.9,165 850.6,174.8" fill="#e02a30"/>
<polygon points="835.9,208.3 855.7,208.3 858.9,243.2 832.3,243.2" fill="url(#gCone)"/>
<g fill="#e2e2e2" fill-opacity="0.85"><circle cx="840.5" cy="213.5" r="1.8"/><circle cx="851" cy="213" r="1.8"/><circle cx="838" cy="220.5" r="1.8"/><circle cx="845" cy="222.5" r="1.8"/><circle cx="853" cy="220" r="1.8"/><circle cx="842" cy="229" r="1.8"/><circle cx="850" cy="229.5" r="1.8"/><circle cx="838.5" cy="237" r="1.8"/><circle cx="846" cy="238.5" r="1.8"/><circle cx="853.5" cy="237" r="1.8"/></g>
<rect x="832" y="246" width="28.3" height="76" rx="5" ry="5" fill="url(#gBody)"/>
<rect x="832" y="246" width="28.3" height="20" fill="url(#gBody)"/>
<rect x="830.8" y="243.6" width="30.2" height="4.6" rx="1.2" fill="#27588c"/>
</g>


<!-- chopper -->
<g id="chopper">
<ellipse cx="968.7" cy="220.2" rx="31.8" ry="77.2" transform="rotate(-8.5 968.7 220.2)" fill="#000"/>
<g fill="#edf1fa">
<path d="M959.9 155.2 L962.2 203.2 L942 183 C944 171 951 159.5 959.9 155.2 Z"/>
<path d="M977.4 168.3 L974.6 207.2 L995.5 215.9 C993.5 197 986 178 977.4 168.3 Z"/>
<path d="M942 223.6 L964.5 230.6 L960.6 273.2 C951 262 944 243 942 223.6 Z"/>
<path d="M975.4 236 L996.3 256.2 C995.5 268 990 279 982.4 282.5 L977.7 282.5 Z"/>
</g>
</g>

<!-- red beam -->
<line x1="864.4" y1="188.5" x2="1073" y2="188.5" stroke="#cf2218" stroke-width="1.35"/>
<polygon points="1080.9,188.5 1067.5,182 1072.3,188.5 1067.5,195" fill="#ee1c1c"/>

<!-- detector -->
<rect x="1088.8" y="145.1" width="22.3" height="78.6" fill="#7030a0"/>
</svg>
</body>
</html>
